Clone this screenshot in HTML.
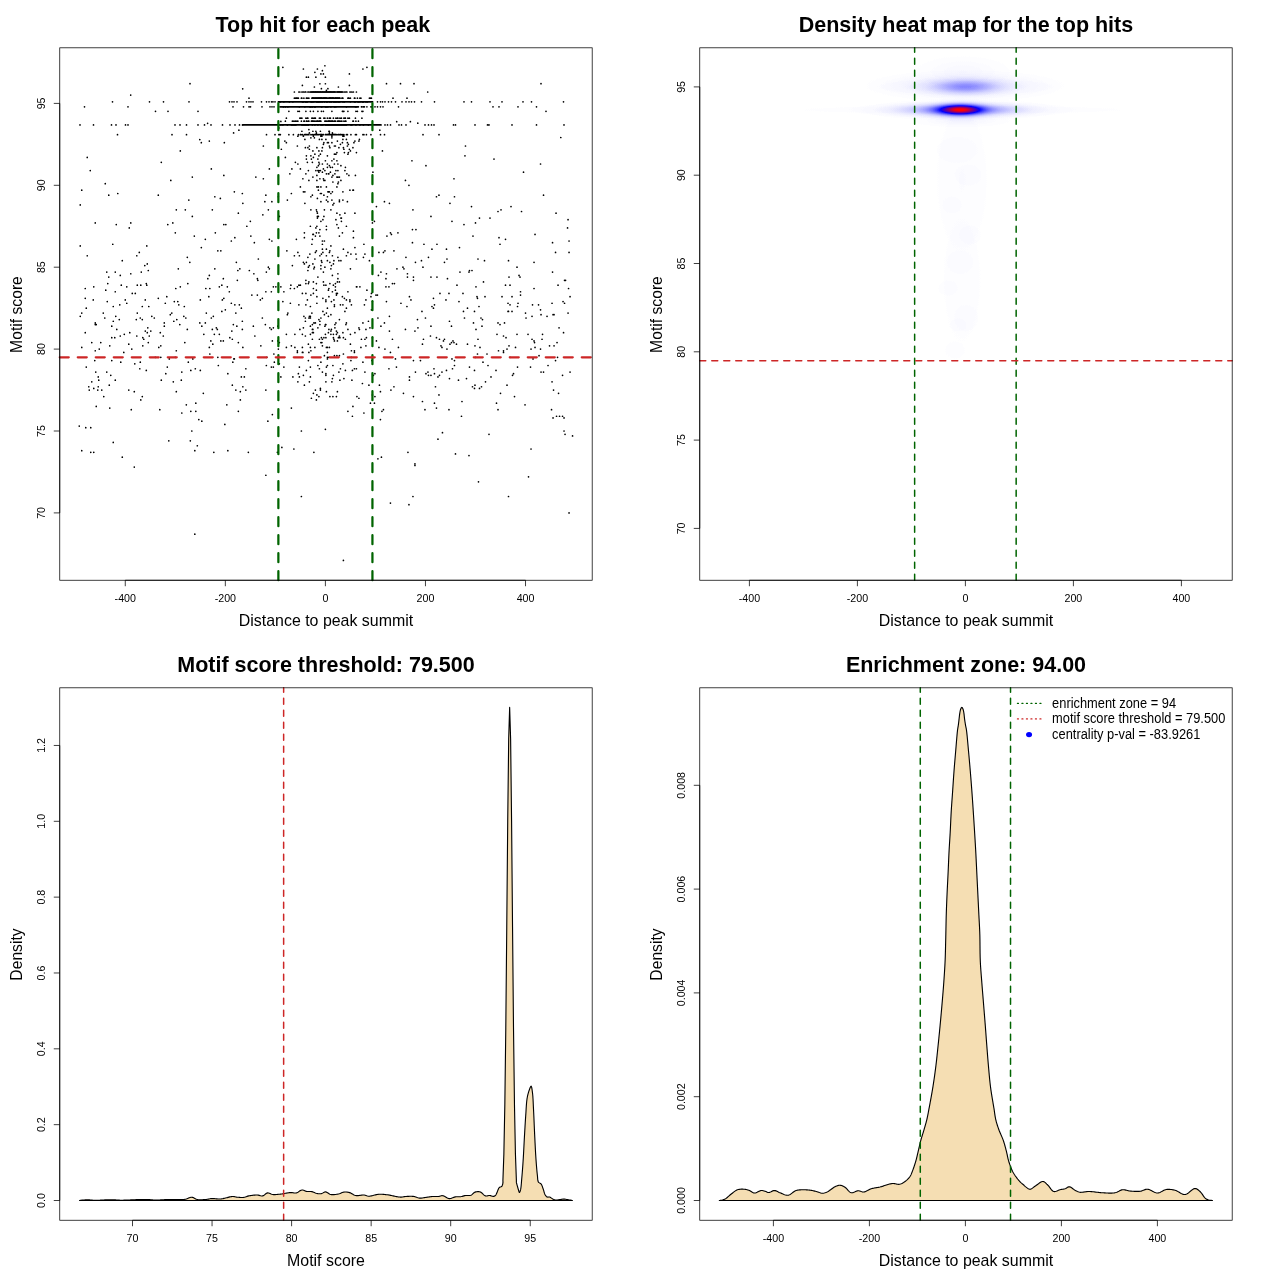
<!DOCTYPE html>
<html><head><meta charset="utf-8"><title>Motif enrichment plots</title>
<style>
html,body{margin:0;padding:0;background:#fff}
svg{display:block;font-family:"Liberation Sans",sans-serif;fill:#000;will-change:transform}
</style></head><body>
<svg width="1280" height="1280" viewBox="0 0 1280 1280">
<rect width="1280" height="1280" fill="#fff"/>
<clipPath id="c1"><rect x="59.76" y="47.81" width="532.43" height="532.43"/></clipPath>
<g clip-path="url(#c1)">
<path d="M96.26 406.43h0M109.77 408.07h0M131.28 409.71h0M140.79 399.88h0M159.8 409.71h0M181.81 412.98h0M186.32 404.79h0M190.82 411.34h0M195.82 411.34h0M195.82 403.15h0M198.82 419.53h0M201.83 421.17h0M226.84 404.79h0M238.35 411.34h0M240.35 399.88h0M224.84 424.45h0M267.87 421.17h0M272.37 414.62h0M291.38 408.07h0M316.39 399.88h0M79.25 426.09h0M85.76 427.72h0M90.76 427.72h0M191.82 431h0M301.39 431h0M325.4 429.36h0M113.27 442.47h0M168.81 440.83h0M190.32 440.83h0M197.32 445.74h0M194.82 450.66h0M81.75 450.66h0M90.76 452.29h0M93.76 452.29h0M213.83 452.29h0M227.84 450.66h0M248.35 452.29h0M277.37 452.29h0M281.87 447.38h0M293.88 449.02h0M313.89 452.29h0M122.28 457.21h0M134.29 467.04h0M265.86 475.23h0M301.39 496.52h0M194.82 534.19h0M347.91 411.34h0M352.92 406.43h0M352.42 416.26h0M363.92 412.98h0M370.43 403.15h0M374.43 403.15h0M380.43 419.53h0M381.93 411.34h0M383.43 409.71h0M422.46 401.52h0M424.96 409.71h0M434.47 403.15h0M436.47 408.07h0M448.97 409.71h0M461.98 401.52h0M461.48 416.26h0M496.5 403.15h0M498 409.71h0M525.02 404.79h0M551.54 409.71h0M553.04 417.9h0M556.54 416.26h0M559.54 416.26h0M562.54 416.26h0M564.04 417.9h0M564.04 431h0M565.04 434.28h0M572.55 435.91h0M442.47 432.64h0M437.97 439.19h0M489 434.28h0M407.95 452.29h0M377.93 458.85h0M381.43 457.21h0M414.95 463.76h0M414.95 465.4h0M455.48 453.93h0M468.99 455.57h0M531.02 449.02h0M528.52 476.86h0M478.49 481.78h0M412.95 496.52h0M390.44 503.07h0M408.95 504.71h0M508.51 496.52h0M569.05 512.9h0M343.41 560.4h0M558.54 393.33h0M242.85 386.77h0M103.77 396.6h0M315.39 390.05h0M372.43 394.96h0M553.54 390.05h0M109.27 385.14h0M481.49 386.77h0M438.97 394.96h0M474.99 385.14h0M337.41 391.69h0M101.77 390.05h0M93.76 388.41h0M88.76 386.77h0M203.33 393.33h0M358.92 398.24h0M97.76 390.05h0M413.45 396.6h0M89.26 390.05h0M232.34 385.14h0M479.49 388.41h0M403.45 393.33h0M380.43 391.69h0M173.31 381.86h0M362.42 383.5h0M98.26 386.77h0M474.49 388.41h0M500.5 393.33h0M245.85 390.05h0M235.85 390.05h0M134.29 391.69h0M472.49 386.77h0M142.29 396.6h0M514.51 396.6h0M176.31 391.69h0M393.94 386.77h0M379.43 385.14h0M390.94 390.05h0M485.5 381.86h0M240.35 391.69h0M435.47 386.77h0M507.01 385.14h0M91.76 381.86h0M356.92 396.6h0M265.86 390.05h0M304.39 385.14h0M128.78 390.05h0M94.76 360.57h0M233.85 358.93h0M232.84 362.2h0M433.97 368.76h0M303.39 375.31h0M106.77 372.03h0M570.05 372.03h0M517.52 367.12h0M531.02 349.1h0M200.32 370.39h0M273.37 367.12h0M190.82 370.39h0M140.29 362.2h0M95.26 350.74h0M327.4 352.38h0M139.79 368.76h0M165.8 373.67h0M503.51 352.38h0M317.9 365.48h0M169.31 358.93h0M409.45 380.22h0M209.83 354.01h0M338.91 372.03h0M218.34 365.48h0M333.4 375.31h0M388.94 368.76h0M343.41 354.01h0M273.87 354.01h0M469.49 367.12h0M510.01 357.29h0M167.31 367.12h0M146.29 370.39h0M134.79 363.84h0M562.54 375.31h0M543.53 372.03h0M192.82 358.93h0M557.54 357.29h0M181.31 380.22h0M328.9 357.29h0M324.4 355.65h0M530.52 367.12h0M98.76 380.22h0M234.35 358.93h0M374.93 373.67h0M111.77 360.57h0M195.32 368.76h0M308.39 360.57h0M513.51 373.67h0M454.48 365.48h0M488 365.48h0M454.48 360.57h0M428.46 375.31h0M498.5 350.74h0M415.45 372.03h0M441.97 372.03h0M227.84 373.67h0M161.3 380.22h0M452.48 368.76h0M160.8 357.29h0M533.02 358.93h0M373.43 375.31h0M241.35 376.95h0M541.03 372.03h0M155.3 357.29h0M332.9 365.48h0M123.78 352.38h0M555.54 360.57h0M362.92 362.2h0M475.49 357.29h0M217.84 357.29h0M474.49 370.39h0M425.96 373.67h0M396.44 367.12h0M548.03 365.48h0M292.88 376.95h0M283.88 367.12h0M420.46 360.57h0M491 376.95h0M244.35 376.95h0M409.45 376.95h0M181.81 372.03h0M351.42 350.74h0M458.48 380.22h0M110.77 375.31h0M437.97 376.95h0M86.26 367.12h0M552.04 381.86h0M310.39 367.12h0M280.87 376.95h0M434.47 373.67h0M336.91 355.65h0M439.47 375.31h0M120.78 362.2h0M356.42 368.76h0M354.42 368.76h0M539.03 355.65h0M98.26 376.95h0M302.39 352.38h0M390.44 352.38h0M350.92 360.57h0M115.27 380.22h0M371.93 360.57h0M188.32 362.2h0M175.31 357.29h0M512.51 375.31h0M176.31 350.74h0M302.89 352.38h0M449.47 378.58h0M427.96 372.03h0M351.92 380.22h0M477.49 354.01h0M308.89 352.38h0M384.94 349.1h0M482.99 362.2h0M413.45 360.57h0M395.44 358.93h0M279.37 363.84h0M354.42 350.74h0M274.37 362.2h0M446.47 370.39h0M266.36 365.48h0M309.39 381.86h0M451.98 358.93h0M327.4 358.93h0M245.85 368.76h0M487 354.01h0M266.86 357.29h0M496 370.39h0M466.48 378.58h0M299.38 376.95h0M430.96 375.31h0M95.76 372.03h0M271.37 367.12h0M503.51 350.74h0M364.92 372.03h0M354.42 352.38h0M414.95 331.08h0M500 324.53h0M277.87 326.17h0M80.25 316.34h0M467.49 344.19h0M199.82 322.89h0M149.29 336h0M473.49 322.89h0M417.46 319.62h0M183.82 316.34h0M210.83 340.91h0M542.53 334.36h0M211.33 317.98h0M425.46 317.98h0M142.79 337.63h0M480.99 317.98h0M136.79 336h0M333.4 337.63h0M96.26 324.53h0M350.41 334.36h0M497 334.36h0M120.28 336h0M214.33 334.36h0M456.48 344.19h0M378.93 347.46h0M233.34 324.53h0M389.44 331.08h0M303.39 327.81h0M504.51 322.89h0M223.34 340.91h0M452.98 340.91h0M392.44 339.27h0M444.47 339.27h0M265.36 324.53h0M436.47 337.63h0M423.46 339.27h0M269.87 327.81h0M91.76 342.55h0M554.04 345.82h0M430.96 326.17h0M179.81 324.53h0M439.47 339.27h0M216.33 327.81h0M310.39 347.46h0M503.51 336h0M299.88 329.44h0M220.84 340.91h0M229.84 337.63h0M116.77 329.44h0M187.32 329.44h0M212.83 344.19h0M164.3 326.17h0M109.77 345.82h0M308.89 317.98h0M184.82 342.55h0M443.47 340.91h0M534.53 342.55h0M213.33 316.34h0M361.42 339.27h0M328.9 329.44h0M115.77 316.34h0M140.29 317.98h0M515.51 347.46h0M312.89 332.72h0M475.99 329.44h0M111.77 326.17h0M372.43 337.63h0M506.01 337.63h0M507.01 349.1h0M81.75 347.46h0M336.41 331.08h0M260.86 345.82h0M453.98 342.55h0M114.77 337.63h0M209.33 347.46h0M479.99 347.46h0M310.39 317.98h0M302.39 334.36h0M557.04 342.55h0M236.85 326.17h0M99.26 349.1h0M272.37 340.91h0M154.3 317.98h0M119.28 319.62h0M358.92 327.81h0M549.53 345.82h0M364.92 339.27h0M398.44 347.46h0M238.35 342.55h0M360.92 347.46h0M449.97 344.19h0M369.93 327.81h0M474.99 345.82h0M350.41 344.19h0M176.81 319.62h0M366.42 337.63h0M321.4 337.63h0M160.8 345.82h0M384.44 322.89h0M481.99 326.17h0M145.29 331.08h0M347.91 329.44h0M440.97 345.82h0M277.87 340.91h0M212.33 329.44h0M262.36 317.98h0M346.41 322.89h0M417.96 327.81h0M354.92 332.72h0M131.78 349.1h0M482.49 319.62h0M535.03 347.46h0M128.78 344.19h0M201.83 326.17h0M164.3 322.89h0M498 322.89h0M528.02 334.36h0M100.77 342.55h0M242.85 347.46h0M173.81 321.25h0M310.39 316.34h0M534.03 340.91h0M113.27 321.25h0M163.3 336h0M319.4 339.27h0M337.41 332.72h0M446.97 349.1h0M294.88 334.36h0M148.29 342.55h0M253.36 326.17h0M563.54 332.72h0M449.47 321.25h0M136.29 319.62h0M477.99 339.27h0M232.34 339.27h0M464.48 317.98h0M85.26 332.72h0M509.01 345.82h0M158.8 347.46h0M303.89 316.34h0M405.45 329.44h0M329.4 347.46h0M160.3 332.72h0M147.29 332.72h0M219.34 334.36h0M104.77 317.98h0M185.82 317.98h0M142.79 345.82h0M308.39 344.19h0M254.86 336h0M368.43 321.25h0M217.34 329.44h0M95.26 324.53h0M242.35 329.44h0M451.48 342.55h0M205.33 322.89h0M278.37 349.1h0M451.48 326.17h0M279.37 342.55h0M517.01 334.36h0M532.02 316.34h0M231.84 331.08h0M441.97 347.46h0M203.83 334.36h0M147.79 327.81h0M294.88 347.46h0M376.43 340.91h0M540.53 349.1h0M150.8 331.08h0M430.46 336h0M313.39 332.72h0M143.79 339.27h0M559.04 327.81h0M422.46 344.19h0M142.29 319.62h0M526.02 317.98h0M129.78 332.72h0M124.28 334.36h0M242.35 321.25h0M542.03 339.27h0M95.26 322.89h0M532.02 339.27h0M380.93 326.17h0M111.77 337.63h0M359.42 329.44h0M305.39 317.98h0M105.77 290.13h0M477.49 298.32h0M346.41 299.96h0M265.86 291.77h0M251.86 295.05h0M113.27 306.51h0M206.33 313.06h0M386.44 301.6h0M126.78 286.86h0M409.45 296.68h0M554.04 314.7h0M563.04 301.6h0M518.02 303.24h0M476.99 296.68h0M166.8 296.68h0M558.04 285.22h0M178.81 304.87h0M508.01 303.24h0M512.01 296.68h0M385.94 286.86h0M336.41 293.41h0M177.81 301.6h0M335.41 290.13h0M222.34 299.96h0M140.79 285.22h0M142.29 306.51h0M474.49 311.43h0M534.03 288.49h0M148.79 306.51h0M85.26 288.49h0M208.83 296.68h0M145.29 299.96h0M171.81 313.06h0M366.92 290.13h0M287.38 314.7h0M290.88 285.22h0M180.31 286.86h0M406.95 306.51h0M221.84 311.43h0M275.87 286.86h0M307.39 299.96h0M525.52 313.06h0M200.32 299.96h0M433.46 308.15h0M231.34 303.24h0M520.52 295.05h0M273.37 286.86h0M328.4 290.13h0M512.01 311.43h0M410.95 299.96h0M125.28 299.96h0M146.29 283.58h0M568.05 313.06h0M93.26 299.96h0M227.34 286.86h0M552.04 303.24h0M86.26 308.15h0M158.3 298.32h0M184.32 306.51h0M121.28 285.22h0M311.89 313.06h0M371.43 309.79h0M235.85 313.06h0M132.28 293.41h0M478.99 306.51h0M475.99 286.86h0M356.42 286.86h0M146.79 285.22h0M346.41 308.15h0M389.44 316.34h0M290.38 303.24h0M505.51 285.22h0M271.37 291.77h0M330.9 314.7h0M135.29 293.41h0M356.92 286.86h0M456.98 285.22h0M439.97 293.41h0M205.83 288.49h0M568.55 288.49h0M434.47 304.87h0M287.88 313.06h0M283.88 291.77h0M463.48 311.43h0M165.3 303.24h0M394.44 283.58h0M433.46 298.32h0M333.91 299.96h0M510.01 285.22h0M310.39 306.51h0M308.39 283.58h0M219.34 286.86h0M532.52 304.87h0M234.85 304.87h0M421.96 311.43h0M280.87 286.86h0M540.53 309.79h0M547.03 316.34h0M93.76 286.86h0M570.05 296.68h0M377.43 295.05h0M115.27 291.77h0M324.4 314.7h0M103.27 313.06h0M349.91 299.96h0M170.31 314.7h0M260.36 299.96h0M229.34 291.77h0M375.93 295.05h0M485 296.68h0M541.03 314.7h0M241.35 308.15h0M359.92 286.86h0M81.75 313.06h0M262.36 298.32h0M553.04 314.7h0M137.29 285.22h0M508.51 311.43h0M400.95 303.24h0M223.84 298.32h0M462.98 293.41h0M221.84 285.22h0M520.52 291.77h0M119.78 304.87h0M137.29 313.06h0M448.97 293.41h0M300.38 285.22h0M151.8 316.34h0M332.4 291.77h0M225.34 309.79h0M349.91 301.6h0M445.97 299.96h0M502.01 296.68h0M107.77 283.58h0M371.43 293.41h0M564.54 303.24h0M305.89 293.41h0M458.98 301.6h0M126.78 303.24h0M510.01 304.87h0M365.92 299.96h0M517.52 306.51h0M467.49 308.15h0M508.01 311.43h0M107.27 301.6h0M431.96 306.51h0M175.81 288.49h0M209.83 288.49h0M239.35 304.87h0M370.93 296.68h0M388.94 286.86h0M538.53 304.87h0M85.26 298.32h0M174.31 301.6h0M257.36 295.05h0M552.54 272.11h0M147.29 263.92h0M555.54 252.46h0M407.45 273.75h0M471.99 270.48h0M392.44 283.58h0M508.51 260.65h0M239.85 268.84h0M428.46 257.37h0M209.33 275.39h0M329.9 262.29h0M415.45 262.29h0M178.31 268.84h0M108.77 277.03h0M469.49 270.48h0M477.99 259.01h0M407.45 277.03h0M237.35 280.3h0M403.95 268.84h0M120.28 275.39h0M405.95 257.37h0M363.42 257.37h0M383.43 252.46h0M299.38 255.73h0M189.82 262.29h0M436.97 277.03h0M307.89 257.37h0M446.97 259.01h0M258.36 259.01h0M122.28 260.65h0M346.41 255.73h0M386.44 273.75h0M534.03 262.29h0M517.01 267.2h0M106.77 272.11h0M459.98 272.11h0M207.83 278.67h0M422.96 267.2h0M266.36 272.11h0M237.85 270.48h0M319.9 255.73h0M340.91 260.65h0M421.46 260.65h0M393.94 250.82h0M413.45 277.03h0M268.37 267.2h0M413.45 280.3h0M249.35 270.48h0M378.93 252.46h0M305.89 280.3h0M356.42 259.01h0M87.26 255.73h0M324.9 267.2h0M187.32 257.37h0M269.37 268.84h0M115.27 272.11h0M402.95 267.2h0M520.02 277.03h0M253.86 273.75h0M130.78 273.75h0M384.94 250.82h0M141.29 272.11h0M519.02 275.39h0M139.29 252.46h0M257.36 278.67h0M322.9 252.46h0M136.79 255.73h0M236.35 262.29h0M214.83 268.84h0M430.96 277.03h0M565.54 280.3h0M257.86 280.3h0M468.99 272.11h0M148.29 270.48h0M364.92 254.1h0M292.38 265.56h0M220.84 250.82h0M484.5 260.65h0M447.47 278.67h0M144.79 265.56h0M223.34 278.67h0M483.49 281.94h0M569.05 252.46h0M380.93 272.11h0M509.01 277.03h0M564.54 280.3h0M444.47 262.29h0M396.94 268.84h0M187.82 283.58h0M431.96 249.18h0M205.33 239.35h0M463.98 224.61h0M319.9 229.53h0M343.41 249.18h0M304.39 237.72h0M412.45 229.53h0M567.55 227.89h0M472.99 236.08h0M112.77 244.27h0M322.9 219.7h0M194.32 236.08h0M129.28 227.89h0M175.31 232.8h0M201.33 247.54h0M552.54 242.63h0M446.47 249.18h0M500 244.27h0M423.96 244.27h0M234.85 237.72h0M271.87 240.99h0M296.38 239.35h0M223.84 224.61h0M286.88 250.82h0M459.48 247.54h0M116.27 224.61h0M215.33 232.8h0M315.39 236.08h0M412.45 242.63h0M397.94 232.8h0M436.97 244.27h0M130.78 222.97h0M167.81 224.61h0M231.34 240.99h0M217.84 250.82h0M451.98 221.34h0M569.05 240.99h0M415.95 229.53h0M95.26 222.97h0M225.84 224.61h0M475.49 222.97h0M535.03 234.44h0M372.43 222.97h0M250.86 236.08h0M254.36 242.63h0M391.44 234.44h0M505.51 239.35h0M246.85 226.25h0M172.81 222.97h0M80.25 245.91h0M146.79 245.91h0M499 237.72h0M386.94 236.08h0M568.05 219.7h0M543.53 195.13h0M556.04 213.15h0M438.97 195.13h0M412.95 209.87h0M212.33 209.87h0M262.86 214.78h0M80.25 204.96h0M490 218.06h0M214.83 196.77h0M117.78 193.49h0M234.35 191.85h0M238.35 213.15h0M436.47 196.77h0M81.75 190.21h0M192.32 216.42h0M521.52 211.51h0M501.01 209.87h0M389.44 203.32h0M354.92 213.15h0M188.82 200.04h0M511.01 206.59h0M454.48 196.77h0M331.9 200.04h0M158.3 195.13h0M185.32 209.87h0M265.86 195.13h0M242.35 193.49h0M108.77 195.13h0M279.37 216.42h0M300.38 186.94h0M220.34 198.4h0M268.37 209.87h0M242.85 203.32h0M264.86 201.68h0M384.44 201.68h0M324.4 209.87h0M176.31 209.87h0M471.49 206.59h0M332.4 191.85h0M304.89 203.32h0M430.96 216.42h0M449.97 203.32h0M498 211.51h0M479.49 218.06h0M408.95 185.3h0M223.84 175.47h0M344.41 152.54h0M255.86 177.11h0M105.27 183.66h0M523.52 172.2h0M540.53 164.01h0M170.81 180.39h0M285.38 157.45h0M263.36 178.75h0M161.3 162.37h0M405.45 180.39h0M464.98 155.82h0M453.98 178.75h0M411.95 160.73h0M87.26 157.45h0M192.32 177.11h0M332.9 182.02h0M425.96 165.64h0M269.37 168.92h0M300.38 168.92h0M494 159.09h0M90.26 170.56h0M211.33 168.92h0M319.4 139.44h0M303.39 136.16h0M278.87 127.97h0M224.34 142.71h0M209.33 141.07h0M201.33 142.71h0M465.48 145.99h0M180.31 150.9h0M338.91 147.63h0M263.36 145.99h0M280.87 121.42h0M333.91 203.32h0M318.9 172.2h0M306.39 262.29h0M316.39 250.82h0M310.89 209.87h0M325.9 324.53h0M304.39 232.8h0M334.91 327.81h0M325.9 299.96h0M317.4 213.15h0M313.39 136.16h0M308.89 129.61h0M347.91 291.77h0M309.39 316.34h0M319.9 236.08h0M329.4 252.46h0M320.9 265.56h0M323.9 180.39h0M291.38 193.49h0M346.41 226.25h0M344.91 213.15h0M374.43 221.34h0M342.91 200.04h0M329.4 145.99h0M354.92 141.07h0M350.92 134.52h0M331.9 160.73h0M310.39 326.17h0M322.4 249.18h0M331.9 177.11h0M298.88 285.22h0M323.9 216.42h0M323.9 337.63h0M305.89 304.87h0M321.4 260.65h0M325.4 334.36h0M332.4 255.73h0M344.41 298.32h0M325.4 160.73h0M337.91 278.67h0M331.4 265.56h0M346.91 173.83h0M326.4 226.25h0M325.9 337.63h0M372.43 301.6h0M339.91 214.78h0M351.42 304.87h0M336.41 295.05h0M336.91 213.15h0M324.4 240.99h0M316.39 290.13h0M310.39 226.25h0M330.9 209.87h0M334.41 340.91h0M328.9 288.49h0M337.41 281.94h0M318.9 155.82h0M339.91 337.63h0M323.4 272.11h0M334.41 306.51h0M278.37 196.77h0M320.4 170.56h0M339.41 336h0M333.91 159.09h0M310.89 196.77h0M325.9 301.6h0M307.89 147.63h0M325.9 285.22h0M355.42 175.47h0M342.91 332.72h0M326.4 249.18h0M353.42 237.72h0M336.91 152.54h0M329.4 165.64h0M326.4 229.53h0M338.41 337.63h0M350.92 254.1h0M314.39 267.2h0M328.9 131.25h0M339.41 200.04h0M333.91 260.65h0M313.89 268.84h0M324.9 180.39h0M273.37 327.81h0M324.9 170.56h0M327.9 201.68h0M309.89 254.1h0M330.9 193.49h0M303.39 262.29h0M377.93 317.98h0M337.91 257.37h0M343.41 337.63h0M331.4 329.44h0M315.39 252.46h0M332.4 167.28h0M298.88 304.87h0M269.37 239.35h0M340.91 134.52h0M316.89 167.28h0M321.9 150.9h0M271.87 201.68h0M335.91 219.7h0M320.9 221.34h0M317.4 216.42h0M354.92 247.54h0M307.89 270.48h0M342.41 296.68h0M336.41 334.36h0M320.9 268.84h0M316.89 180.39h0M338.41 227.89h0M311.89 313.06h0M318.9 170.56h0M312.39 339.27h0M323.4 144.35h0M376.43 206.59h0M316.89 226.25h0M314.89 259.01h0M327.4 167.28h0M286.38 347.46h0M291.38 345.82h0M312.89 234.44h0M305.89 283.58h0M327.4 260.65h0M353.42 231.16h0M333.91 339.27h0M316.39 132.88h0M326.4 200.04h0M317.9 327.81h0M326.4 186.94h0M342.41 232.8h0M317.4 198.4h0M336.91 186.94h0M315.89 131.25h0M335.91 322.89h0M312.89 131.25h0M311.89 244.27h0M342.91 304.87h0M308.39 267.2h0M330.9 268.84h0M356.42 152.54h0M313.39 234.44h0M310.39 334.36h0M328.4 191.85h0M312.39 239.35h0M317.9 170.56h0M322.4 339.27h0M306.39 159.09h0M348.41 152.54h0M302.39 347.46h0M363.92 244.27h0M362.92 322.89h0M318.9 232.8h0M365.92 329.44h0M335.91 154.18h0M327.4 308.15h0M347.41 201.68h0M332.9 204.96h0M385.94 278.67h0M331.4 301.6h0M352.92 147.63h0M337.41 340.91h0M337.41 293.41h0M317.9 277.03h0M250.35 221.34h0M350.41 268.84h0M345.91 324.53h0M336.91 224.61h0M349.91 190.21h0M323.9 195.13h0M324.4 240.99h0M323.4 281.94h0M326.4 347.46h0M316.39 232.8h0M316.89 211.51h0M347.91 252.46h0M310.89 137.8h0M334.41 304.87h0M315.89 170.56h0M304.89 191.85h0M350.41 150.9h0M329.4 145.99h0M316.89 296.68h0M297.38 145.99h0M369.43 260.65h0M287.38 200.04h0M342.91 139.44h0M340.91 218.06h0M341.41 221.34h0M333.4 334.36h0M317.4 218.06h0M328.9 296.68h0M312.89 263.92h0M309.39 265.56h0M320.9 136.16h0M316.39 209.87h0M352.92 190.21h0M322.9 311.43h0M313.39 281.94h0M306.39 155.82h0M313.89 322.89h0M346.41 139.44h0M294.38 255.73h0M333.4 263.92h0M339.41 236.08h0M297.88 252.46h0M330.9 245.91h0M326.4 255.73h0M312.39 195.13h0M313.39 288.49h0M326.4 313.06h0M321.4 254.1h0M312.39 329.44h0M329.9 250.82h0M322.4 240.99h0M337.91 177.11h0M325.4 324.53h0M321.9 262.29h0M336.91 177.11h0M378.43 275.39h0M340.91 165.64h0M303.39 191.85h0M345.41 339.27h0M304.39 263.92h0M340.91 180.39h0M390.44 232.8h0M320.9 201.68h0M320.4 131.25h0M339.41 201.68h0M319.9 229.53h0M319.4 164.01h0M355.92 254.1h0M327.4 347.46h0M290.38 288.49h0M341.41 218.06h0M337.41 141.07h0M318.4 216.42h0M335.41 286.86h0M329.4 131.25h0M338.91 260.65h0M322.9 298.32h0M315.89 227.89h0M337.91 273.75h0M334.91 324.53h0M327.9 191.85h0M327.4 196.77h0M343.91 136.16h0M318.9 319.62h0M281.37 149.26h0M326.4 173.83h0M302.39 293.41h0M322.4 244.27h0M347.91 154.18h0M328.9 173.83h0M320.9 186.94h0M284.88 141.07h0M337.91 183.66h0M318.9 162.37h0M318.4 165.64h0M314.39 137.8h0M317.9 159.09h0M345.41 167.28h0M322.4 172.2h0M343.41 147.63h0M323.4 178.75h0M309.39 145.99h0M335.41 145.99h0M328.4 142.71h0M297.88 164.01h0M308.89 180.39h0M320.4 154.18h0M321.9 136.16h0M289.88 173.83h0M342.91 191.85h0M338.41 182.02h0M331.9 136.16h0M320.4 193.49h0M353.42 190.21h0M316.89 186.94h0M331.9 137.8h0M323.4 168.92h0M382.43 150.9h0M309.39 149.26h0M330.4 167.28h0M329.9 147.63h0M322.4 164.01h0M311.39 159.09h0M305.89 173.83h0M321.4 193.49h0M327.4 155.82h0M312.89 177.11h0M339.41 177.11h0M359.42 139.44h0M335.91 170.56h0M318.4 186.94h0M314.89 154.18h0M336.91 160.73h0M318.4 190.21h0M372.93 172.2h0M310.89 155.82h0M332.9 175.47h0M332.4 132.88h0M340.41 144.35h0M295.38 162.37h0M342.91 136.16h0M329.4 191.85h0M319.9 178.75h0M308.89 281.94h0M344.91 311.43h0M305.39 336h0M334.41 306.51h0M310.89 295.05h0M340.41 304.87h0M322.4 345.82h0M365.92 345.82h0M339.41 319.62h0M314.89 347.46h0M320.9 342.55h0M282.87 301.6h0M328.4 316.34h0M321.9 342.55h0M323.9 285.22h0M319.9 321.25h0M335.41 283.58h0M364.42 304.87h0M316.89 303.24h0M320.9 317.98h0M307.39 299.96h0M336.41 331.08h0M312.89 329.44h0M333.4 285.22h0M286.38 334.36h0M305.39 321.25h0M313.39 293.41h0M319.9 324.53h0M315.39 322.89h0M339.41 281.94h0M330.9 334.36h0M330.9 331.08h0M329.9 283.58h0M271.37 329.44h0M312.39 324.53h0M316.39 283.58h0M324.9 326.17h0M332.4 275.39h0M294.38 288.49h0M297.38 286.86h0M312.39 332.72h0M328.4 332.72h0M298.38 373.67h0M297.88 381.86h0M352.42 370.39h0M339.41 355.65h0M327.4 365.48h0M316.89 394.96h0M325.9 375.31h0M325.9 373.67h0M311.39 398.24h0M368.93 385.14h0M329.9 396.6h0M313.39 393.33h0M299.38 367.12h0M310.89 350.74h0M339.91 380.22h0M340.41 368.76h0M320.9 362.2h0M326.4 367.12h0M319.4 368.76h0M351.42 357.29h0M332.9 396.6h0M374.93 396.6h0M310.39 376.95h0M322.4 372.03h0M342.91 363.84h0M320.4 390.05h0M297.38 352.38h0M306.39 370.39h0M327.4 357.29h0M332.4 378.58h0M345.41 370.39h0M331.9 381.86h0M325.9 381.86h0M320.4 388.41h0M336.41 396.6h0M343.91 378.58h0M326.4 391.69h0M334.41 355.65h0M318.9 396.6h0M297.38 350.74h0M348.91 175.47h0M342.41 142.71h0M334.41 164.01h0M331.9 142.71h0M358.92 141.07h0M334.91 173.83h0M323.9 142.71h0M309.39 132.88h0M318.9 150.9h0M305.39 147.63h0M327.4 164.01h0M330.4 172.2h0M286.38 142.71h0M325.9 139.44h0M337.91 170.56h0M328.4 173.83h0M307.39 162.37h0M349.41 149.26h0M312.39 162.37h0M301.89 131.25h0M304.89 139.44h0M325.4 134.52h0M343.91 149.26h0M347.41 142.71h0M329.4 132.88h0M302.89 178.75h0M312.89 150.9h0M308.39 170.56h0M321.9 139.44h0M291.88 168.92h0M327.4 142.71h0M337.91 164.01h0M322.4 147.63h0M334.41 145.99h0M307.39 134.52h0M297.88 136.16h0M313.39 157.45h0M347.41 145.99h0M344.91 170.56h0M316.89 175.47h0M348.41 144.35h0M319.4 134.52h0M353.92 142.71h0M334.41 154.18h0M316.89 147.63h0M306.39 77.19h0M315.89 77.19h0M362.92 69h0M302.39 85.38h0M303.39 69h0M319.9 83.74h0M308.39 77.19h0M314.89 72.28h0M338.41 87.02h0M366.92 67.36h0M282.87 67.36h0M324.9 65.73h0M326.4 90.3h0M323.4 73.92h0M320.9 73.92h0M317.4 69h0M349.41 85.38h0M314.39 87.02h0M322.4 70.64h0M325.4 83.74h0M327.9 88.66h0M321.4 88.66h0M349.41 73.92h0M325.4 77.19h0M356.42 92h0M313.89 92h0M324.9 92h0M333.91 92h0M326.4 92h0M309.89 92h0M330.9 92h0M326.9 92h0M331.4 92h0M339.91 92h0M338.41 92h0M330.9 92h0M329.4 92h0M310.89 92h0M323.9 92h0M328.4 92h0M320.4 92h0M326.9 92h0M314.89 92h0M345.41 92h0M353.42 92h0M320.4 92h0M330.4 92h0M322.4 92h0M341.91 92h0M330.9 92h0M326.4 92h0M322.4 92h0M326.9 92h0M312.39 92h0M334.41 92h0M315.89 92h0M332.4 92h0M326.9 92h0M339.41 92h0M325.4 92h0M338.91 92h0M313.39 92h0M333.4 92h0M322.4 92h0M327.9 92h0M326.4 92h0M337.41 92h0M298.88 92h0M329.4 92h0M305.89 92h0M340.91 92h0M299.88 92h0M312.39 92h0M303.39 92h0M346.91 92h0M308.39 92h0M326.9 92h0M318.4 92h0M301.89 92h0M320.9 92h0M333.91 92h0M322.9 92h0M337.41 92h0M320.9 92h0M325.4 92h0M320.4 92h0M329.9 92h0M349.91 92h0M329.9 92h0M327.9 92h0M317.4 92h0M315.39 92h0M344.41 92h0M310.89 92h0M313.39 92h0M323.9 92h0M319.9 92h0M350.92 92h0M294.38 92h0M329.9 92h0M334.91 92h0M310.89 92h0M316.89 92h0M330.9 92h0M346.41 92h0M313.39 92h0M304.89 92h0M337.91 92h0M345.41 92h0M334.91 92h0M309.89 92h0M308.39 92h0M303.39 92h0M351.92 92h0M302.89 92h0M349.91 92h0M305.39 92h0M315.39 92h0M307.89 92h0M297.38 98.2h0M313.39 98.2h0M348.41 98.2h0M320.4 98.2h0M307.89 98.2h0M325.4 98.2h0M323.9 98.2h0M323.9 98.2h0M319.4 98.2h0M321.4 98.2h0M319.4 98.2h0M329.9 98.2h0M314.89 98.2h0M321.4 98.2h0M323.4 98.2h0M342.41 98.2h0M330.4 98.2h0M323.9 98.2h0M332.4 98.2h0M330.9 98.2h0M339.41 98.2h0M331.9 98.2h0M348.91 98.2h0M342.91 98.2h0M324.9 98.2h0M319.9 98.2h0M336.91 98.2h0M331.9 98.2h0M324.4 98.2h0M306.39 98.2h0M301.39 98.2h0M329.9 98.2h0M335.41 98.2h0M335.91 98.2h0M308.89 98.2h0M338.91 98.2h0M318.4 98.2h0M330.4 98.2h0M330.9 98.2h0M314.89 98.2h0M317.9 98.2h0M298.38 98.2h0M313.39 98.2h0M301.89 98.2h0M330.9 98.2h0M326.4 98.2h0M337.41 98.2h0M329.9 98.2h0M316.89 98.2h0M329.9 98.2h0M320.4 98.2h0M333.4 98.2h0M329.4 98.2h0M312.39 98.2h0M325.4 98.2h0M325.9 98.2h0M321.4 98.2h0M336.91 98.2h0M347.91 98.2h0M320.4 98.2h0M320.9 98.2h0M296.38 98.2h0M323.9 98.2h0M319.9 98.2h0M297.38 98.2h0M329.4 98.2h0M332.9 98.2h0M315.89 98.2h0M320.4 98.2h0M312.89 98.2h0M329.4 98.2h0M335.41 98.2h0M316.89 98.2h0M359.92 98.2h0M314.89 98.2h0M306.89 98.2h0M350.41 98.2h0M357.42 98.2h0M360.92 98.2h0M294.38 98.2h0M296.88 98.2h0M321.9 98.2h0M369.43 98.2h0M336.91 98.2h0M336.91 98.2h0M308.89 98.2h0M371.43 98.2h0M295.38 98.2h0M330.9 98.2h0M341.91 98.2h0M354.42 98.2h0M354.92 98.2h0M314.89 98.2h0M303.89 98.2h0M370.43 98.2h0M329.4 101.8h0M305.39 101.8h0M280.37 101.8h0M357.92 101.8h0M367.43 101.8h0M330.9 101.8h0M316.39 101.8h0M338.91 101.8h0M331.4 101.8h0M355.42 101.8h0M350.41 101.8h0M324.4 101.8h0M289.38 101.8h0M342.91 101.8h0M363.42 101.8h0M283.88 101.8h0M336.41 101.8h0M362.42 101.8h0M334.41 101.8h0M303.39 101.8h0M313.89 101.8h0M354.42 101.8h0M307.39 101.8h0M319.4 101.8h0M310.89 101.8h0M278.87 101.8h0M302.39 101.8h0M331.4 101.8h0M307.39 101.8h0M339.91 101.8h0M331.4 101.8h0M292.88 101.8h0M312.39 101.8h0M327.4 101.8h0M334.91 101.8h0M311.89 101.8h0M320.9 101.8h0M335.41 101.8h0M322.4 101.8h0M305.39 101.8h0M318.4 101.8h0M316.39 101.8h0M306.39 101.8h0M333.4 101.8h0M326.4 101.8h0M318.4 101.8h0M344.41 101.8h0M359.92 101.8h0M337.91 101.8h0M311.89 101.8h0M358.42 101.8h0M319.4 101.8h0M317.4 101.8h0M365.92 101.8h0M338.41 101.8h0M285.38 106.8h0M325.4 106.8h0M346.41 106.8h0M327.9 106.8h0M304.89 106.8h0M285.38 106.8h0M310.39 106.8h0M314.89 106.8h0M309.89 106.8h0M321.4 106.8h0M355.42 106.8h0M326.4 106.8h0M330.9 106.8h0M283.37 106.8h0M315.39 106.8h0M314.39 106.8h0M334.41 106.8h0M335.91 106.8h0M321.9 106.8h0M287.88 106.8h0M310.89 106.8h0M299.38 106.8h0M312.39 106.8h0M363.92 106.8h0M361.42 106.8h0M361.92 106.8h0M364.42 106.8h0M366.92 106.8h0M357.42 106.8h0M371.93 106.8h0M363.42 106.8h0M370.93 106.8h0M356.92 106.8h0M357.92 106.8h0M358.42 106.8h0M361.92 111.3h0M317.9 111.3h0M355.92 111.3h0M342.41 111.3h0M288.88 111.3h0M313.39 111.3h0M310.39 111.3h0M321.4 111.3h0M347.91 111.3h0M288.88 111.3h0M362.92 111.3h0M323.4 111.3h0M313.39 111.3h0M342.91 111.3h0M305.89 111.3h0M343.91 111.3h0M317.9 111.3h0M323.4 111.3h0M297.88 111.3h0M299.38 111.3h0M357.42 111.3h0M331.9 111.3h0M339.91 118.2h0M320.4 118.2h0M314.39 118.2h0M319.4 118.2h0M307.89 118.2h0M319.4 118.2h0M329.4 118.2h0M324.9 118.2h0M341.41 118.2h0M315.39 118.2h0M337.41 118.2h0M299.88 118.2h0M312.89 118.2h0M286.38 118.2h0M355.42 118.2h0M337.91 118.2h0M300.89 118.2h0M323.9 118.2h0M345.41 118.2h0M335.91 118.2h0M333.4 118.2h0M307.39 118.2h0M311.89 118.2h0M327.4 118.2h0M344.91 118.2h0M307.89 118.2h0M301.89 118.2h0M349.41 118.2h0M305.89 118.2h0M347.91 118.2h0M330.4 118.2h0M343.91 118.2h0M361.92 118.2h0M339.91 118.2h0M334.91 121.2h0M314.39 121.2h0M316.89 121.2h0M332.9 121.2h0M343.91 121.2h0M341.91 121.2h0M353.42 121.2h0M328.9 121.2h0M327.9 121.2h0M337.41 121.2h0M325.4 121.2h0M324.9 121.2h0M312.89 121.2h0M337.41 121.2h0M312.39 121.2h0M331.4 121.2h0M308.39 121.2h0M338.41 121.2h0M312.89 121.2h0M335.41 121.2h0M306.39 121.2h0M319.9 121.2h0M339.41 121.2h0M315.89 121.2h0M326.4 121.2h0M319.9 121.2h0M297.88 121.2h0M328.9 121.2h0M330.4 121.2h0M311.89 121.2h0M332.4 121.2h0M315.89 121.2h0M313.39 121.2h0M325.4 121.2h0M317.4 121.2h0M352.92 121.2h0M306.89 121.2h0M334.41 121.2h0M337.41 121.2h0M301.39 121.2h0M304.39 121.2h0M331.9 121.2h0M319.4 121.2h0M329.9 121.2h0M338.91 121.2h0M320.9 121.2h0M312.39 121.2h0M292.38 121.2h0M327.9 121.2h0M314.39 121.2h0M329.4 121.2h0M328.4 121.2h0M308.89 121.2h0M345.91 121.2h0M338.41 121.2h0M335.41 121.2h0M311.39 121.2h0M320.4 121.2h0M318.9 121.2h0M320.4 121.2h0M311.89 121.2h0M330.4 121.2h0M328.4 121.2h0M329.9 121.2h0M319.4 121.2h0M340.91 121.2h0M327.9 121.2h0M292.38 121.2h0M317.9 121.2h0M324.9 121.2h0M285.38 121.2h0M295.38 121.2h0M303.89 121.2h0M293.88 121.2h0M296.88 121.2h0M329.4 121.2h0M319.4 121.2h0M355.92 121.2h0M325.4 121.2h0M328.9 121.2h0M345.41 121.2h0M358.42 121.2h0M334.91 124.9h0M320.9 124.9h0M337.41 124.9h0M329.4 124.9h0M344.41 124.9h0M351.42 124.9h0M295.38 124.9h0M335.91 124.9h0M304.39 124.9h0M292.38 124.9h0M292.38 124.9h0M346.41 124.9h0M278.87 124.9h0M328.4 124.9h0M321.9 124.9h0M334.41 124.9h0M339.91 124.9h0M326.9 124.9h0M301.89 124.9h0M326.9 124.9h0M332.9 124.9h0M322.9 124.9h0M368.43 124.9h0M333.91 124.9h0M331.9 124.9h0M345.41 124.9h0M291.38 124.9h0M330.9 124.9h0M307.89 124.9h0M306.39 124.9h0M314.89 124.9h0M317.9 124.9h0M293.88 124.9h0M308.39 124.9h0M305.39 124.9h0M350.92 124.9h0M278.87 124.9h0M338.41 124.9h0M287.38 124.9h0M343.91 124.9h0M351.92 124.9h0M325.4 124.9h0M301.89 124.9h0M302.89 124.9h0M280.87 124.9h0M341.41 124.9h0M312.39 124.9h0M307.89 124.9h0M335.91 124.9h0M295.88 124.9h0M355.92 124.9h0M294.88 124.9h0M359.92 124.9h0M342.41 124.9h0M295.88 124.9h0M328.4 124.9h0M282.87 124.9h0M363.42 124.9h0M343.91 134.7h0M313.89 134.7h0M341.91 134.7h0M315.39 134.7h0M322.9 134.7h0M333.91 134.7h0M331.9 134.7h0M328.4 134.7h0M308.89 134.7h0M328.9 134.7h0M315.39 134.7h0M350.92 134.7h0M323.4 134.7h0M327.4 134.7h0M313.89 134.7h0M320.4 134.7h0M312.39 134.7h0M335.41 134.7h0M322.9 134.7h0M330.9 134.7h0M318.4 134.7h0M320.4 134.7h0M338.41 134.7h0M315.89 134.7h0M307.39 134.7h0M329.4 134.7h0M313.89 134.7h0M320.9 134.7h0M334.41 134.7h0M317.4 134.7h0M334.41 134.7h0M318.4 134.7h0M340.41 134.7h0M338.91 134.7h0M320.9 134.7h0M323.4 134.7h0M316.89 134.7h0M327.4 134.7h0M336.91 134.7h0M310.89 134.7h0M334.41 134.7h0M312.39 134.7h0M316.89 134.7h0M307.39 134.7h0M346.41 134.7h0M325.9 134.7h0M327.9 134.7h0M318.4 134.7h0M335.91 134.7h0M304.39 134.7h0M325.9 134.7h0M347.41 134.7h0M321.4 134.7h0M325.4 134.7h0M331.9 134.7h0M317.4 134.7h0M325.4 134.7h0M334.91 134.7h0M327.4 134.7h0M328.9 134.7h0M321.9 134.7h0M328.4 134.7h0M325.9 134.7h0M339.91 134.7h0M332.4 134.7h0M322.9 134.7h0M300.89 134.7h0M332.4 134.7h0M332.9 134.7h0M316.39 134.7h0M305.39 134.7h0M313.89 134.7h0M334.91 134.7h0M314.89 134.7h0M320.9 134.7h0M279.37 134.7h0M356.42 134.7h0M278.87 134.7h0M302.39 134.7h0M333.4 134.7h0M325.4 134.7h0M362.92 134.7h0M298.38 134.7h0M288.88 134.7h0M293.38 134.7h0M325.4 134.7h0M305.89 134.7h0M321.4 134.7h0M342.91 134.7h0M308.39 134.7h0M340.91 134.7h0M280.37 134.7h0M329.9 134.7h0M363.92 134.7h0M366.42 134.7h0M331.9 134.7h0M370.93 134.7h0M300.38 134.7h0M306.39 134.7h0M320.4 134.7h0M326.4 134.7h0M355.42 134.7h0M320.4 134.7h0M112.5 101.8h0M149.5 101.8h0M163.5 101.8h0M189 101.8h0M229.5 101.8h0M232 101.8h0M234 101.8h0M237 101.8h0M246.5 101.8h0M249 101.8h0M251 101.8h0M253 101.8h0M261.5 101.8h0M266.5 101.8h0M269 101.8h0M271.5 101.8h0M273 101.8h0M275 101.8h0M377.5 101.8h0M380.5 101.8h0M382.5 101.8h0M385 101.8h0M388.5 101.8h0M391.5 101.8h0M395.5 101.8h0M402 101.8h0M406 101.8h0M409 101.8h0M411.5 101.8h0M414.5 101.8h0M421.5 101.8h0M434.5 101.8h0M464 101.8h0M471.5 101.8h0M490 101.8h0M502 101.8h0M523 101.8h0M531.5 101.8h0M563.5 101.8h0M84.5 106.8h0M128 106.8h0M233 106.8h0M243.5 106.8h0M249 106.8h0M250.5 106.8h0M262 106.8h0M270 106.8h0M272 106.8h0M274 106.8h0M375 106.8h0M377.5 106.8h0M380.5 106.8h0M383 106.8h0M398.5 106.8h0M493 106.8h0M499 106.8h0M518 106.8h0M536.5 106.8h0M155.5 111.3h0M168 111.3h0M198 111.3h0M546 111.3h0M80 124.9h0M93.5 124.9h0M111.5 124.9h0M116 124.9h0M125.5 124.9h0M128 124.9h0M175 124.9h0M180 124.9h0M186.5 124.9h0M198 124.9h0M204.5 124.9h0M211 124.9h0M222.5 124.9h0M230 124.9h0M235 124.9h0M239.5 124.9h0M242.5 124.9h0M385 124.9h0M387.5 124.9h0M390.5 124.9h0M399 124.9h0M401.5 124.9h0M406 124.9h0M425 124.9h0M428.5 124.9h0M431.5 124.9h0M434 124.9h0M453.5 124.9h0M455.5 124.9h0M475 124.9h0M487.5 124.9h0M489 124.9h0M512 124.9h0M536.5 124.9h0M564 124.9h0M117.5 134.7h0M172 134.7h0M186.5 134.7h0M266.5 134.7h0M275 134.7h0M380.5 134.7h0M384.5 134.7h0M423 134.7h0M439 134.7h0M190 83.7h0M386.5 83.7h0M400.5 83.7h0M414 83.7h0M541 83.7h0M249 98.2h0M393 98.2h0M407 98.2h0M242.7 88.8h0M130.7 95.1h0M207.6 123.3h0M238.9 130.2h0M233.6 132.9h0M199.8 139.6h0M427.7 92h0M396.7 121.7h0M410.4 121.7h0M417.8 123.2h0M379.8 130.2h0M560.8 137.5h0" stroke="#000" stroke-width="1.7" stroke-linecap="round" fill="none"/>
<path d="M311 92H343M312 98.2H340M278.4 101.8H372.6M280 106.8H356.5M243 124.9H381" stroke="#000" stroke-width="1.7" stroke-linecap="round" fill="none"/>
</g>
<path d="M278.37 580.24V47.81" stroke="#006400" stroke-width="2.25" stroke-dasharray="9 9" stroke-linecap="round" fill="none"/>
<path d="M372.43 580.24V47.81" stroke="#006400" stroke-width="2.25" stroke-dasharray="9 9" stroke-linecap="round" fill="none"/>
<path d="M59.76 357.29H592.19" stroke="#CD2626" stroke-width="2.25" stroke-dasharray="9 9" stroke-linecap="round" fill="none"/>
<rect x="59.76" y="47.81" width="532.43" height="532.43" fill="none" stroke="#000" stroke-width="0.75"/>
<path d="M125.28 580.24H525.52M125.28 580.24v5.98M225.34 580.24v5.98M325.4 580.24v5.98M425.46 580.24v5.98M525.52 580.24v5.98" stroke="#000" stroke-width="0.75" fill="none"/>
<text x="125.28" y="601.75" font-size="10.67" text-anchor="middle">-400</text>
<text x="225.34" y="601.75" font-size="10.67" text-anchor="middle">-200</text>
<text x="325.4" y="601.75" font-size="10.67" text-anchor="middle">0</text>
<text x="425.46" y="601.75" font-size="10.67" text-anchor="middle">200</text>
<text x="525.52" y="601.75" font-size="10.67" text-anchor="middle">400</text>
<path d="M59.76 103.4V512.9M59.76 512.9h-5.98M59.76 431h-5.98M59.76 349.1h-5.98M59.76 267.2h-5.98M59.76 185.3h-5.98M59.76 103.4h-5.98" stroke="#000" stroke-width="0.75" fill="none"/>
<text transform="translate(45.42 512.9) rotate(-90)" font-size="10.67" text-anchor="middle">70</text>
<text transform="translate(45.42 431) rotate(-90)" font-size="10.67" text-anchor="middle">75</text>
<text transform="translate(45.42 349.1) rotate(-90)" font-size="10.67" text-anchor="middle">80</text>
<text transform="translate(45.42 267.2) rotate(-90)" font-size="10.67" text-anchor="middle">85</text>
<text transform="translate(45.42 185.3) rotate(-90)" font-size="10.67" text-anchor="middle">90</text>
<text transform="translate(45.42 103.4) rotate(-90)" font-size="10.67" text-anchor="middle">95</text>
<text x="325.98" y="625.66" font-size="15.93" text-anchor="middle">Distance to peak summit</text>
<text transform="translate(21.51 314.52) rotate(-90)" font-size="15.7" text-anchor="middle">Motif score</text>
<text x="322.88" y="31.85" font-size="21.5" font-weight="bold" text-anchor="middle">Top hit for each peak</text>
<clipPath id="c2"><rect x="699.76" y="47.81" width="532.43" height="532.43"/></clipPath>
<filter id="heat" x="699.76" y="47.81" width="532.43" height="532.43" filterUnits="userSpaceOnUse" color-interpolation-filters="sRGB"><feComponentTransfer><feFuncR type="table" tableValues="1 0 1"/><feFuncG type="table" tableValues="1 0 0"/><feFuncB type="table" tableValues="1 1 0"/></feComponentTransfer></filter>
<radialGradient id="h1" gradientUnits="userSpaceOnUse" cx="0" cy="0" r="3.5" gradientTransform="translate(960 109.8) scale(13.5 3.3)"><stop offset="0.000" stop-color="#bfbfbf"/><stop offset="0.036" stop-color="#bebebe"/><stop offset="0.071" stop-color="#b9b9b9"/><stop offset="0.107" stop-color="#b2b2b2"/><stop offset="0.143" stop-color="#a9a9a9"/><stop offset="0.179" stop-color="#9d9d9d"/><stop offset="0.214" stop-color="#909090"/><stop offset="0.250" stop-color="#828282"/><stop offset="0.286" stop-color="#747474"/><stop offset="0.321" stop-color="#666666"/><stop offset="0.357" stop-color="#585858"/><stop offset="0.393" stop-color="#4a4a4a"/><stop offset="0.429" stop-color="#3e3e3e"/><stop offset="0.464" stop-color="#333333"/><stop offset="0.500" stop-color="#292929"/><stop offset="0.536" stop-color="#212121"/><stop offset="0.571" stop-color="#1a1a1a"/><stop offset="0.607" stop-color="#141414"/><stop offset="0.643" stop-color="#0f0f0f"/><stop offset="0.679" stop-color="#0b0b0b"/><stop offset="0.714" stop-color="#080808"/><stop offset="0.750" stop-color="#060606"/><stop offset="0.786" stop-color="#040404"/><stop offset="0.821" stop-color="#030303"/><stop offset="0.857" stop-color="#020202"/><stop offset="0.893" stop-color="#010101"/><stop offset="0.929" stop-color="#010101"/><stop offset="0.964" stop-color="#010101"/><stop offset="1.000" stop-color="#000000"/></radialGradient>
<radialGradient id="h2" gradientUnits="userSpaceOnUse" cx="0" cy="0" r="3.5" gradientTransform="translate(960.5 109.8) scale(32 3.5)"><stop offset="0.000" stop-color="#404040"/><stop offset="0.036" stop-color="#3f3f3f"/><stop offset="0.071" stop-color="#3e3e3e"/><stop offset="0.107" stop-color="#3b3b3b"/><stop offset="0.143" stop-color="#383838"/><stop offset="0.179" stop-color="#343434"/><stop offset="0.214" stop-color="#303030"/><stop offset="0.250" stop-color="#2b2b2b"/><stop offset="0.286" stop-color="#272727"/><stop offset="0.321" stop-color="#222222"/><stop offset="0.357" stop-color="#1d1d1d"/><stop offset="0.393" stop-color="#191919"/><stop offset="0.429" stop-color="#151515"/><stop offset="0.464" stop-color="#111111"/><stop offset="0.500" stop-color="#0e0e0e"/><stop offset="0.536" stop-color="#0b0b0b"/><stop offset="0.571" stop-color="#090909"/><stop offset="0.607" stop-color="#070707"/><stop offset="0.643" stop-color="#050505"/><stop offset="0.679" stop-color="#040404"/><stop offset="0.714" stop-color="#030303"/><stop offset="0.750" stop-color="#020202"/><stop offset="0.786" stop-color="#010101"/><stop offset="0.821" stop-color="#010101"/><stop offset="0.857" stop-color="#010101"/><stop offset="0.893" stop-color="#000000"/><stop offset="0.929" stop-color="#000000"/><stop offset="0.964" stop-color="#000000"/><stop offset="1.000" stop-color="#000000"/></radialGradient>
<radialGradient id="h3" gradientUnits="userSpaceOnUse" cx="0" cy="0" r="3.5" gradientTransform="translate(962 109.8) scale(48 3.6)"><stop offset="0.000" stop-color="#080808"/><stop offset="0.036" stop-color="#080808"/><stop offset="0.071" stop-color="#070707"/><stop offset="0.107" stop-color="#070707"/><stop offset="0.143" stop-color="#070707"/><stop offset="0.179" stop-color="#060606"/><stop offset="0.214" stop-color="#060606"/><stop offset="0.250" stop-color="#050505"/><stop offset="0.286" stop-color="#050505"/><stop offset="0.321" stop-color="#040404"/><stop offset="0.357" stop-color="#040404"/><stop offset="0.393" stop-color="#030303"/><stop offset="0.429" stop-color="#020202"/><stop offset="0.464" stop-color="#020202"/><stop offset="0.500" stop-color="#020202"/><stop offset="0.536" stop-color="#010101"/><stop offset="0.571" stop-color="#010101"/><stop offset="0.607" stop-color="#010101"/><stop offset="0.643" stop-color="#010101"/><stop offset="0.679" stop-color="#000000"/><stop offset="0.714" stop-color="#000000"/><stop offset="0.750" stop-color="#000000"/><stop offset="0.786" stop-color="#000000"/><stop offset="0.821" stop-color="#000000"/><stop offset="0.857" stop-color="#000000"/><stop offset="0.893" stop-color="#000000"/><stop offset="0.929" stop-color="#000000"/><stop offset="0.964" stop-color="#000000"/><stop offset="1.000" stop-color="#000000"/></radialGradient>
<radialGradient id="h4" gradientUnits="userSpaceOnUse" cx="0" cy="0" r="3.5" gradientTransform="translate(962 109.8) scale(130 3.2)"><stop offset="0.000" stop-color="#010101"/><stop offset="0.036" stop-color="#010101"/><stop offset="0.071" stop-color="#010101"/><stop offset="0.107" stop-color="#010101"/><stop offset="0.143" stop-color="#010101"/><stop offset="0.179" stop-color="#010101"/><stop offset="0.214" stop-color="#010101"/><stop offset="0.250" stop-color="#010101"/><stop offset="0.286" stop-color="#010101"/><stop offset="0.321" stop-color="#010101"/><stop offset="0.357" stop-color="#000000"/><stop offset="0.393" stop-color="#000000"/><stop offset="0.429" stop-color="#000000"/><stop offset="0.464" stop-color="#000000"/><stop offset="0.500" stop-color="#000000"/><stop offset="0.536" stop-color="#000000"/><stop offset="0.571" stop-color="#000000"/><stop offset="0.607" stop-color="#000000"/><stop offset="0.643" stop-color="#000000"/><stop offset="0.679" stop-color="#000000"/><stop offset="0.714" stop-color="#000000"/><stop offset="0.750" stop-color="#000000"/><stop offset="0.786" stop-color="#000000"/><stop offset="0.821" stop-color="#000000"/><stop offset="0.857" stop-color="#000000"/><stop offset="0.893" stop-color="#000000"/><stop offset="0.929" stop-color="#000000"/><stop offset="0.964" stop-color="#000000"/><stop offset="1.000" stop-color="#000000"/></radialGradient>
<radialGradient id="h5" gradientUnits="userSpaceOnUse" cx="0" cy="0" r="3.5" gradientTransform="translate(965.8 87) scale(19 4.3)"><stop offset="0.000" stop-color="#292929"/><stop offset="0.036" stop-color="#282828"/><stop offset="0.071" stop-color="#282828"/><stop offset="0.107" stop-color="#262626"/><stop offset="0.143" stop-color="#242424"/><stop offset="0.179" stop-color="#222222"/><stop offset="0.214" stop-color="#1f1f1f"/><stop offset="0.250" stop-color="#1c1c1c"/><stop offset="0.286" stop-color="#191919"/><stop offset="0.321" stop-color="#161616"/><stop offset="0.357" stop-color="#131313"/><stop offset="0.393" stop-color="#101010"/><stop offset="0.429" stop-color="#0d0d0d"/><stop offset="0.464" stop-color="#0b0b0b"/><stop offset="0.500" stop-color="#090909"/><stop offset="0.536" stop-color="#070707"/><stop offset="0.571" stop-color="#060606"/><stop offset="0.607" stop-color="#040404"/><stop offset="0.643" stop-color="#030303"/><stop offset="0.679" stop-color="#020202"/><stop offset="0.714" stop-color="#020202"/><stop offset="0.750" stop-color="#010101"/><stop offset="0.786" stop-color="#010101"/><stop offset="0.821" stop-color="#010101"/><stop offset="0.857" stop-color="#000000"/><stop offset="0.893" stop-color="#000000"/><stop offset="0.929" stop-color="#000000"/><stop offset="0.964" stop-color="#000000"/><stop offset="1.000" stop-color="#000000"/></radialGradient>
<radialGradient id="h6" gradientUnits="userSpaceOnUse" cx="0" cy="0" r="3.5" gradientTransform="translate(965 85.8) scale(38 6)"><stop offset="0.000" stop-color="#0f0f0f"/><stop offset="0.036" stop-color="#0f0f0f"/><stop offset="0.071" stop-color="#0f0f0f"/><stop offset="0.107" stop-color="#0e0e0e"/><stop offset="0.143" stop-color="#0e0e0e"/><stop offset="0.179" stop-color="#0d0d0d"/><stop offset="0.214" stop-color="#0c0c0c"/><stop offset="0.250" stop-color="#0a0a0a"/><stop offset="0.286" stop-color="#090909"/><stop offset="0.321" stop-color="#080808"/><stop offset="0.357" stop-color="#070707"/><stop offset="0.393" stop-color="#060606"/><stop offset="0.429" stop-color="#050505"/><stop offset="0.464" stop-color="#040404"/><stop offset="0.500" stop-color="#030303"/><stop offset="0.536" stop-color="#030303"/><stop offset="0.571" stop-color="#020202"/><stop offset="0.607" stop-color="#020202"/><stop offset="0.643" stop-color="#010101"/><stop offset="0.679" stop-color="#010101"/><stop offset="0.714" stop-color="#010101"/><stop offset="0.750" stop-color="#000000"/><stop offset="0.786" stop-color="#000000"/><stop offset="0.821" stop-color="#000000"/><stop offset="0.857" stop-color="#000000"/><stop offset="0.893" stop-color="#000000"/><stop offset="0.929" stop-color="#000000"/><stop offset="0.964" stop-color="#000000"/><stop offset="1.000" stop-color="#000000"/></radialGradient>
<radialGradient id="h7" gradientUnits="userSpaceOnUse" cx="0" cy="0" r="3.5" gradientTransform="translate(966 86.8) scale(45 4.2)"><stop offset="0.000" stop-color="#040404"/><stop offset="0.036" stop-color="#040404"/><stop offset="0.071" stop-color="#030303"/><stop offset="0.107" stop-color="#030303"/><stop offset="0.143" stop-color="#030303"/><stop offset="0.179" stop-color="#030303"/><stop offset="0.214" stop-color="#030303"/><stop offset="0.250" stop-color="#020202"/><stop offset="0.286" stop-color="#020202"/><stop offset="0.321" stop-color="#020202"/><stop offset="0.357" stop-color="#020202"/><stop offset="0.393" stop-color="#010101"/><stop offset="0.429" stop-color="#010101"/><stop offset="0.464" stop-color="#010101"/><stop offset="0.500" stop-color="#010101"/><stop offset="0.536" stop-color="#010101"/><stop offset="0.571" stop-color="#000000"/><stop offset="0.607" stop-color="#000000"/><stop offset="0.643" stop-color="#000000"/><stop offset="0.679" stop-color="#000000"/><stop offset="0.714" stop-color="#000000"/><stop offset="0.750" stop-color="#000000"/><stop offset="0.786" stop-color="#000000"/><stop offset="0.821" stop-color="#000000"/><stop offset="0.857" stop-color="#000000"/><stop offset="0.893" stop-color="#000000"/><stop offset="0.929" stop-color="#000000"/><stop offset="0.964" stop-color="#000000"/><stop offset="1.000" stop-color="#000000"/></radialGradient>
<radialGradient id="h8" gradientUnits="userSpaceOnUse" cx="0" cy="0" r="3.5" gradientTransform="translate(963 72) scale(24 8)"><stop offset="0.000" stop-color="#040404"/><stop offset="0.036" stop-color="#040404"/><stop offset="0.071" stop-color="#030303"/><stop offset="0.107" stop-color="#030303"/><stop offset="0.143" stop-color="#030303"/><stop offset="0.179" stop-color="#030303"/><stop offset="0.214" stop-color="#030303"/><stop offset="0.250" stop-color="#020202"/><stop offset="0.286" stop-color="#020202"/><stop offset="0.321" stop-color="#020202"/><stop offset="0.357" stop-color="#020202"/><stop offset="0.393" stop-color="#010101"/><stop offset="0.429" stop-color="#010101"/><stop offset="0.464" stop-color="#010101"/><stop offset="0.500" stop-color="#010101"/><stop offset="0.536" stop-color="#010101"/><stop offset="0.571" stop-color="#000000"/><stop offset="0.607" stop-color="#000000"/><stop offset="0.643" stop-color="#000000"/><stop offset="0.679" stop-color="#000000"/><stop offset="0.714" stop-color="#000000"/><stop offset="0.750" stop-color="#000000"/><stop offset="0.786" stop-color="#000000"/><stop offset="0.821" stop-color="#000000"/><stop offset="0.857" stop-color="#000000"/><stop offset="0.893" stop-color="#000000"/><stop offset="0.929" stop-color="#000000"/><stop offset="0.964" stop-color="#000000"/><stop offset="1.000" stop-color="#000000"/></radialGradient>
<radialGradient id="h9" gradientUnits="userSpaceOnUse" cx="0" cy="0" r="3.5" gradientTransform="translate(961 120.5) scale(22 3)"><stop offset="0.000" stop-color="#050505"/><stop offset="0.036" stop-color="#050505"/><stop offset="0.071" stop-color="#050505"/><stop offset="0.107" stop-color="#050505"/><stop offset="0.143" stop-color="#050505"/><stop offset="0.179" stop-color="#040404"/><stop offset="0.214" stop-color="#040404"/><stop offset="0.250" stop-color="#030303"/><stop offset="0.286" stop-color="#030303"/><stop offset="0.321" stop-color="#030303"/><stop offset="0.357" stop-color="#020202"/><stop offset="0.393" stop-color="#020202"/><stop offset="0.429" stop-color="#020202"/><stop offset="0.464" stop-color="#010101"/><stop offset="0.500" stop-color="#010101"/><stop offset="0.536" stop-color="#010101"/><stop offset="0.571" stop-color="#010101"/><stop offset="0.607" stop-color="#010101"/><stop offset="0.643" stop-color="#000000"/><stop offset="0.679" stop-color="#000000"/><stop offset="0.714" stop-color="#000000"/><stop offset="0.750" stop-color="#000000"/><stop offset="0.786" stop-color="#000000"/><stop offset="0.821" stop-color="#000000"/><stop offset="0.857" stop-color="#000000"/><stop offset="0.893" stop-color="#000000"/><stop offset="0.929" stop-color="#000000"/><stop offset="0.964" stop-color="#000000"/><stop offset="1.000" stop-color="#000000"/></radialGradient>
<radialGradient id="h10" gradientUnits="userSpaceOnUse" cx="0" cy="0" r="3.5" gradientTransform="translate(962 180) scale(17 48)"><stop offset="0.000" stop-color="#020202"/><stop offset="0.036" stop-color="#020202"/><stop offset="0.071" stop-color="#010101"/><stop offset="0.107" stop-color="#010101"/><stop offset="0.143" stop-color="#010101"/><stop offset="0.179" stop-color="#010101"/><stop offset="0.214" stop-color="#010101"/><stop offset="0.250" stop-color="#010101"/><stop offset="0.286" stop-color="#010101"/><stop offset="0.321" stop-color="#010101"/><stop offset="0.357" stop-color="#010101"/><stop offset="0.393" stop-color="#010101"/><stop offset="0.429" stop-color="#000000"/><stop offset="0.464" stop-color="#000000"/><stop offset="0.500" stop-color="#000000"/><stop offset="0.536" stop-color="#000000"/><stop offset="0.571" stop-color="#000000"/><stop offset="0.607" stop-color="#000000"/><stop offset="0.643" stop-color="#000000"/><stop offset="0.679" stop-color="#000000"/><stop offset="0.714" stop-color="#000000"/><stop offset="0.750" stop-color="#000000"/><stop offset="0.786" stop-color="#000000"/><stop offset="0.821" stop-color="#000000"/><stop offset="0.857" stop-color="#000000"/><stop offset="0.893" stop-color="#000000"/><stop offset="0.929" stop-color="#000000"/><stop offset="0.964" stop-color="#000000"/><stop offset="1.000" stop-color="#000000"/></radialGradient>
<radialGradient id="h11" gradientUnits="userSpaceOnUse" cx="0" cy="0" r="3.5" gradientTransform="translate(962 280) scale(15 50)"><stop offset="0.000" stop-color="#010101"/><stop offset="0.036" stop-color="#010101"/><stop offset="0.071" stop-color="#010101"/><stop offset="0.107" stop-color="#010101"/><stop offset="0.143" stop-color="#010101"/><stop offset="0.179" stop-color="#010101"/><stop offset="0.214" stop-color="#010101"/><stop offset="0.250" stop-color="#010101"/><stop offset="0.286" stop-color="#010101"/><stop offset="0.321" stop-color="#010101"/><stop offset="0.357" stop-color="#000000"/><stop offset="0.393" stop-color="#000000"/><stop offset="0.429" stop-color="#000000"/><stop offset="0.464" stop-color="#000000"/><stop offset="0.500" stop-color="#000000"/><stop offset="0.536" stop-color="#000000"/><stop offset="0.571" stop-color="#000000"/><stop offset="0.607" stop-color="#000000"/><stop offset="0.643" stop-color="#000000"/><stop offset="0.679" stop-color="#000000"/><stop offset="0.714" stop-color="#000000"/><stop offset="0.750" stop-color="#000000"/><stop offset="0.786" stop-color="#000000"/><stop offset="0.821" stop-color="#000000"/><stop offset="0.857" stop-color="#000000"/><stop offset="0.893" stop-color="#000000"/><stop offset="0.929" stop-color="#000000"/><stop offset="0.964" stop-color="#000000"/><stop offset="1.000" stop-color="#000000"/></radialGradient>
<radialGradient id="h12" gradientUnits="userSpaceOnUse" cx="0" cy="0" r="3.5" gradientTransform="translate(957 150) scale(14 9)"><stop offset="0.000" stop-color="#010101"/><stop offset="0.036" stop-color="#010101"/><stop offset="0.071" stop-color="#010101"/><stop offset="0.107" stop-color="#010101"/><stop offset="0.143" stop-color="#010101"/><stop offset="0.179" stop-color="#010101"/><stop offset="0.214" stop-color="#010101"/><stop offset="0.250" stop-color="#010101"/><stop offset="0.286" stop-color="#010101"/><stop offset="0.321" stop-color="#010101"/><stop offset="0.357" stop-color="#010101"/><stop offset="0.393" stop-color="#010101"/><stop offset="0.429" stop-color="#000000"/><stop offset="0.464" stop-color="#000000"/><stop offset="0.500" stop-color="#000000"/><stop offset="0.536" stop-color="#000000"/><stop offset="0.571" stop-color="#000000"/><stop offset="0.607" stop-color="#000000"/><stop offset="0.643" stop-color="#000000"/><stop offset="0.679" stop-color="#000000"/><stop offset="0.714" stop-color="#000000"/><stop offset="0.750" stop-color="#000000"/><stop offset="0.786" stop-color="#000000"/><stop offset="0.821" stop-color="#000000"/><stop offset="0.857" stop-color="#000000"/><stop offset="0.893" stop-color="#000000"/><stop offset="0.929" stop-color="#000000"/><stop offset="0.964" stop-color="#000000"/><stop offset="1.000" stop-color="#000000"/></radialGradient>
<radialGradient id="h13" gradientUnits="userSpaceOnUse" cx="0" cy="0" r="3.5" gradientTransform="translate(968 175) scale(10 8)"><stop offset="0.000" stop-color="#010101"/><stop offset="0.036" stop-color="#010101"/><stop offset="0.071" stop-color="#010101"/><stop offset="0.107" stop-color="#010101"/><stop offset="0.143" stop-color="#010101"/><stop offset="0.179" stop-color="#010101"/><stop offset="0.214" stop-color="#010101"/><stop offset="0.250" stop-color="#010101"/><stop offset="0.286" stop-color="#010101"/><stop offset="0.321" stop-color="#010101"/><stop offset="0.357" stop-color="#010101"/><stop offset="0.393" stop-color="#000000"/><stop offset="0.429" stop-color="#000000"/><stop offset="0.464" stop-color="#000000"/><stop offset="0.500" stop-color="#000000"/><stop offset="0.536" stop-color="#000000"/><stop offset="0.571" stop-color="#000000"/><stop offset="0.607" stop-color="#000000"/><stop offset="0.643" stop-color="#000000"/><stop offset="0.679" stop-color="#000000"/><stop offset="0.714" stop-color="#000000"/><stop offset="0.750" stop-color="#000000"/><stop offset="0.786" stop-color="#000000"/><stop offset="0.821" stop-color="#000000"/><stop offset="0.857" stop-color="#000000"/><stop offset="0.893" stop-color="#000000"/><stop offset="0.929" stop-color="#000000"/><stop offset="0.964" stop-color="#000000"/><stop offset="1.000" stop-color="#000000"/></radialGradient>
<radialGradient id="h14" gradientUnits="userSpaceOnUse" cx="0" cy="0" r="3.5" gradientTransform="translate(952 205) scale(8 7)"><stop offset="0.000" stop-color="#010101"/><stop offset="0.036" stop-color="#010101"/><stop offset="0.071" stop-color="#010101"/><stop offset="0.107" stop-color="#010101"/><stop offset="0.143" stop-color="#010101"/><stop offset="0.179" stop-color="#010101"/><stop offset="0.214" stop-color="#010101"/><stop offset="0.250" stop-color="#010101"/><stop offset="0.286" stop-color="#010101"/><stop offset="0.321" stop-color="#010101"/><stop offset="0.357" stop-color="#000000"/><stop offset="0.393" stop-color="#000000"/><stop offset="0.429" stop-color="#000000"/><stop offset="0.464" stop-color="#000000"/><stop offset="0.500" stop-color="#000000"/><stop offset="0.536" stop-color="#000000"/><stop offset="0.571" stop-color="#000000"/><stop offset="0.607" stop-color="#000000"/><stop offset="0.643" stop-color="#000000"/><stop offset="0.679" stop-color="#000000"/><stop offset="0.714" stop-color="#000000"/><stop offset="0.750" stop-color="#000000"/><stop offset="0.786" stop-color="#000000"/><stop offset="0.821" stop-color="#000000"/><stop offset="0.857" stop-color="#000000"/><stop offset="0.893" stop-color="#000000"/><stop offset="0.929" stop-color="#000000"/><stop offset="0.964" stop-color="#000000"/><stop offset="1.000" stop-color="#000000"/></radialGradient>
<radialGradient id="h15" gradientUnits="userSpaceOnUse" cx="0" cy="0" r="3.5" gradientTransform="translate(970 235) scale(9 8)"><stop offset="0.000" stop-color="#010101"/><stop offset="0.036" stop-color="#010101"/><stop offset="0.071" stop-color="#010101"/><stop offset="0.107" stop-color="#010101"/><stop offset="0.143" stop-color="#010101"/><stop offset="0.179" stop-color="#010101"/><stop offset="0.214" stop-color="#010101"/><stop offset="0.250" stop-color="#010101"/><stop offset="0.286" stop-color="#010101"/><stop offset="0.321" stop-color="#010101"/><stop offset="0.357" stop-color="#000000"/><stop offset="0.393" stop-color="#000000"/><stop offset="0.429" stop-color="#000000"/><stop offset="0.464" stop-color="#000000"/><stop offset="0.500" stop-color="#000000"/><stop offset="0.536" stop-color="#000000"/><stop offset="0.571" stop-color="#000000"/><stop offset="0.607" stop-color="#000000"/><stop offset="0.643" stop-color="#000000"/><stop offset="0.679" stop-color="#000000"/><stop offset="0.714" stop-color="#000000"/><stop offset="0.750" stop-color="#000000"/><stop offset="0.786" stop-color="#000000"/><stop offset="0.821" stop-color="#000000"/><stop offset="0.857" stop-color="#000000"/><stop offset="0.893" stop-color="#000000"/><stop offset="0.929" stop-color="#000000"/><stop offset="0.964" stop-color="#000000"/><stop offset="1.000" stop-color="#000000"/></radialGradient>
<radialGradient id="h16" gradientUnits="userSpaceOnUse" cx="0" cy="0" r="3.5" gradientTransform="translate(960 262) scale(10 9)"><stop offset="0.000" stop-color="#010101"/><stop offset="0.036" stop-color="#010101"/><stop offset="0.071" stop-color="#010101"/><stop offset="0.107" stop-color="#010101"/><stop offset="0.143" stop-color="#010101"/><stop offset="0.179" stop-color="#010101"/><stop offset="0.214" stop-color="#010101"/><stop offset="0.250" stop-color="#010101"/><stop offset="0.286" stop-color="#010101"/><stop offset="0.321" stop-color="#010101"/><stop offset="0.357" stop-color="#010101"/><stop offset="0.393" stop-color="#000000"/><stop offset="0.429" stop-color="#000000"/><stop offset="0.464" stop-color="#000000"/><stop offset="0.500" stop-color="#000000"/><stop offset="0.536" stop-color="#000000"/><stop offset="0.571" stop-color="#000000"/><stop offset="0.607" stop-color="#000000"/><stop offset="0.643" stop-color="#000000"/><stop offset="0.679" stop-color="#000000"/><stop offset="0.714" stop-color="#000000"/><stop offset="0.750" stop-color="#000000"/><stop offset="0.786" stop-color="#000000"/><stop offset="0.821" stop-color="#000000"/><stop offset="0.857" stop-color="#000000"/><stop offset="0.893" stop-color="#000000"/><stop offset="0.929" stop-color="#000000"/><stop offset="0.964" stop-color="#000000"/><stop offset="1.000" stop-color="#000000"/></radialGradient>
<radialGradient id="h17" gradientUnits="userSpaceOnUse" cx="0" cy="0" r="3.5" gradientTransform="translate(948 288) scale(9 7)"><stop offset="0.000" stop-color="#010101"/><stop offset="0.036" stop-color="#010101"/><stop offset="0.071" stop-color="#010101"/><stop offset="0.107" stop-color="#010101"/><stop offset="0.143" stop-color="#010101"/><stop offset="0.179" stop-color="#010101"/><stop offset="0.214" stop-color="#010101"/><stop offset="0.250" stop-color="#010101"/><stop offset="0.286" stop-color="#010101"/><stop offset="0.321" stop-color="#000000"/><stop offset="0.357" stop-color="#000000"/><stop offset="0.393" stop-color="#000000"/><stop offset="0.429" stop-color="#000000"/><stop offset="0.464" stop-color="#000000"/><stop offset="0.500" stop-color="#000000"/><stop offset="0.536" stop-color="#000000"/><stop offset="0.571" stop-color="#000000"/><stop offset="0.607" stop-color="#000000"/><stop offset="0.643" stop-color="#000000"/><stop offset="0.679" stop-color="#000000"/><stop offset="0.714" stop-color="#000000"/><stop offset="0.750" stop-color="#000000"/><stop offset="0.786" stop-color="#000000"/><stop offset="0.821" stop-color="#000000"/><stop offset="0.857" stop-color="#000000"/><stop offset="0.893" stop-color="#000000"/><stop offset="0.929" stop-color="#000000"/><stop offset="0.964" stop-color="#000000"/><stop offset="1.000" stop-color="#000000"/></radialGradient>
<radialGradient id="h18" gradientUnits="userSpaceOnUse" cx="0" cy="0" r="3.5" gradientTransform="translate(966 318) scale(9 10)"><stop offset="0.000" stop-color="#010101"/><stop offset="0.036" stop-color="#010101"/><stop offset="0.071" stop-color="#010101"/><stop offset="0.107" stop-color="#010101"/><stop offset="0.143" stop-color="#010101"/><stop offset="0.179" stop-color="#010101"/><stop offset="0.214" stop-color="#010101"/><stop offset="0.250" stop-color="#010101"/><stop offset="0.286" stop-color="#010101"/><stop offset="0.321" stop-color="#010101"/><stop offset="0.357" stop-color="#010101"/><stop offset="0.393" stop-color="#000000"/><stop offset="0.429" stop-color="#000000"/><stop offset="0.464" stop-color="#000000"/><stop offset="0.500" stop-color="#000000"/><stop offset="0.536" stop-color="#000000"/><stop offset="0.571" stop-color="#000000"/><stop offset="0.607" stop-color="#000000"/><stop offset="0.643" stop-color="#000000"/><stop offset="0.679" stop-color="#000000"/><stop offset="0.714" stop-color="#000000"/><stop offset="0.750" stop-color="#000000"/><stop offset="0.786" stop-color="#000000"/><stop offset="0.821" stop-color="#000000"/><stop offset="0.857" stop-color="#000000"/><stop offset="0.893" stop-color="#000000"/><stop offset="0.929" stop-color="#000000"/><stop offset="0.964" stop-color="#000000"/><stop offset="1.000" stop-color="#000000"/></radialGradient>
<radialGradient id="h19" gradientUnits="userSpaceOnUse" cx="0" cy="0" r="3.5" gradientTransform="translate(955 350) scale(9 8)"><stop offset="0.000" stop-color="#010101"/><stop offset="0.036" stop-color="#010101"/><stop offset="0.071" stop-color="#010101"/><stop offset="0.107" stop-color="#010101"/><stop offset="0.143" stop-color="#010101"/><stop offset="0.179" stop-color="#010101"/><stop offset="0.214" stop-color="#010101"/><stop offset="0.250" stop-color="#010101"/><stop offset="0.286" stop-color="#010101"/><stop offset="0.321" stop-color="#000000"/><stop offset="0.357" stop-color="#000000"/><stop offset="0.393" stop-color="#000000"/><stop offset="0.429" stop-color="#000000"/><stop offset="0.464" stop-color="#000000"/><stop offset="0.500" stop-color="#000000"/><stop offset="0.536" stop-color="#000000"/><stop offset="0.571" stop-color="#000000"/><stop offset="0.607" stop-color="#000000"/><stop offset="0.643" stop-color="#000000"/><stop offset="0.679" stop-color="#000000"/><stop offset="0.714" stop-color="#000000"/><stop offset="0.750" stop-color="#000000"/><stop offset="0.786" stop-color="#000000"/><stop offset="0.821" stop-color="#000000"/><stop offset="0.857" stop-color="#000000"/><stop offset="0.893" stop-color="#000000"/><stop offset="0.929" stop-color="#000000"/><stop offset="0.964" stop-color="#000000"/><stop offset="1.000" stop-color="#000000"/></radialGradient>
<radialGradient id="h20" gradientUnits="userSpaceOnUse" cx="0" cy="0" r="3.5" gradientTransform="translate(958 325) scale(8 6)"><stop offset="0.000" stop-color="#010101"/><stop offset="0.036" stop-color="#010101"/><stop offset="0.071" stop-color="#010101"/><stop offset="0.107" stop-color="#010101"/><stop offset="0.143" stop-color="#010101"/><stop offset="0.179" stop-color="#010101"/><stop offset="0.214" stop-color="#010101"/><stop offset="0.250" stop-color="#010101"/><stop offset="0.286" stop-color="#010101"/><stop offset="0.321" stop-color="#000000"/><stop offset="0.357" stop-color="#000000"/><stop offset="0.393" stop-color="#000000"/><stop offset="0.429" stop-color="#000000"/><stop offset="0.464" stop-color="#000000"/><stop offset="0.500" stop-color="#000000"/><stop offset="0.536" stop-color="#000000"/><stop offset="0.571" stop-color="#000000"/><stop offset="0.607" stop-color="#000000"/><stop offset="0.643" stop-color="#000000"/><stop offset="0.679" stop-color="#000000"/><stop offset="0.714" stop-color="#000000"/><stop offset="0.750" stop-color="#000000"/><stop offset="0.786" stop-color="#000000"/><stop offset="0.821" stop-color="#000000"/><stop offset="0.857" stop-color="#000000"/><stop offset="0.893" stop-color="#000000"/><stop offset="0.929" stop-color="#000000"/><stop offset="0.964" stop-color="#000000"/><stop offset="1.000" stop-color="#000000"/></radialGradient>
<g clip-path="url(#c2)"><g filter="url(#heat)"><rect x="699.76" y="47.81" width="532.43" height="532.43" fill="#000"/><g style="mix-blend-mode:plus-lighter">
<ellipse cx="960" cy="109.8" rx="47.25" ry="11.55" fill="url(#h1)" style="mix-blend-mode:plus-lighter"/>
<ellipse cx="960.5" cy="109.8" rx="112" ry="12.25" fill="url(#h2)" style="mix-blend-mode:plus-lighter"/>
<ellipse cx="962" cy="109.8" rx="168" ry="12.6" fill="url(#h3)" style="mix-blend-mode:plus-lighter"/>
<ellipse cx="962" cy="109.8" rx="455" ry="11.2" fill="url(#h4)" style="mix-blend-mode:plus-lighter"/>
<ellipse cx="965.8" cy="87" rx="66.5" ry="15.05" fill="url(#h5)" style="mix-blend-mode:plus-lighter"/>
<ellipse cx="965" cy="85.8" rx="133" ry="21" fill="url(#h6)" style="mix-blend-mode:plus-lighter"/>
<ellipse cx="966" cy="86.8" rx="157.5" ry="14.7" fill="url(#h7)" style="mix-blend-mode:plus-lighter"/>
<ellipse cx="963" cy="72" rx="84" ry="28" fill="url(#h8)" style="mix-blend-mode:plus-lighter"/>
<ellipse cx="961" cy="120.5" rx="77" ry="10.5" fill="url(#h9)" style="mix-blend-mode:plus-lighter"/>
<ellipse cx="962" cy="180" rx="59.5" ry="168" fill="url(#h10)" style="mix-blend-mode:plus-lighter"/>
<ellipse cx="962" cy="280" rx="52.5" ry="175" fill="url(#h11)" style="mix-blend-mode:plus-lighter"/>
<ellipse cx="957" cy="150" rx="49" ry="31.5" fill="url(#h12)" style="mix-blend-mode:plus-lighter"/>
<ellipse cx="968" cy="175" rx="35" ry="28" fill="url(#h13)" style="mix-blend-mode:plus-lighter"/>
<ellipse cx="952" cy="205" rx="28" ry="24.5" fill="url(#h14)" style="mix-blend-mode:plus-lighter"/>
<ellipse cx="970" cy="235" rx="31.5" ry="28" fill="url(#h15)" style="mix-blend-mode:plus-lighter"/>
<ellipse cx="960" cy="262" rx="35" ry="31.5" fill="url(#h16)" style="mix-blend-mode:plus-lighter"/>
<ellipse cx="948" cy="288" rx="31.5" ry="24.5" fill="url(#h17)" style="mix-blend-mode:plus-lighter"/>
<ellipse cx="966" cy="318" rx="31.5" ry="35" fill="url(#h18)" style="mix-blend-mode:plus-lighter"/>
<ellipse cx="955" cy="350" rx="31.5" ry="28" fill="url(#h19)" style="mix-blend-mode:plus-lighter"/>
<ellipse cx="958" cy="325" rx="28" ry="21" fill="url(#h20)" style="mix-blend-mode:plus-lighter"/>
</g></g></g>
<path d="M914.64 580.24V47.81" stroke="#006400" stroke-width="1.5" stroke-dasharray="6 6" stroke-linecap="round" fill="none"/>
<path d="M1016.16 580.24V47.81" stroke="#006400" stroke-width="1.5" stroke-dasharray="6 6" stroke-linecap="round" fill="none"/>
<path d="M699.76 360.63H1232.19" stroke="#CD2626" stroke-width="1.5" stroke-dasharray="6 6" stroke-linecap="round" fill="none"/>
<rect x="699.76" y="47.81" width="532.43" height="532.43" fill="none" stroke="#000" stroke-width="0.75"/>
<path d="M749.4 580.24H1181.4M749.4 580.24v5.98M857.4 580.24v5.98M965.4 580.24v5.98M1073.4 580.24v5.98M1181.4 580.24v5.98" stroke="#000" stroke-width="0.75" fill="none"/>
<text x="749.4" y="601.75" font-size="10.67" text-anchor="middle">-400</text>
<text x="857.4" y="601.75" font-size="10.67" text-anchor="middle">-200</text>
<text x="965.4" y="601.75" font-size="10.67" text-anchor="middle">0</text>
<text x="1073.4" y="601.75" font-size="10.67" text-anchor="middle">200</text>
<text x="1181.4" y="601.75" font-size="10.67" text-anchor="middle">400</text>
<path d="M699.76 86.9V528.4M699.76 528.4h-5.98M699.76 440.1h-5.98M699.76 351.8h-5.98M699.76 263.5h-5.98M699.76 175.2h-5.98M699.76 86.9h-5.98" stroke="#000" stroke-width="0.75" fill="none"/>
<text transform="translate(685.42 528.4) rotate(-90)" font-size="10.67" text-anchor="middle">70</text>
<text transform="translate(685.42 440.1) rotate(-90)" font-size="10.67" text-anchor="middle">75</text>
<text transform="translate(685.42 351.8) rotate(-90)" font-size="10.67" text-anchor="middle">80</text>
<text transform="translate(685.42 263.5) rotate(-90)" font-size="10.67" text-anchor="middle">85</text>
<text transform="translate(685.42 175.2) rotate(-90)" font-size="10.67" text-anchor="middle">90</text>
<text transform="translate(685.42 86.9) rotate(-90)" font-size="10.67" text-anchor="middle">95</text>
<text x="965.98" y="625.66" font-size="15.93" text-anchor="middle">Distance to peak summit</text>
<text transform="translate(661.51 314.52) rotate(-90)" font-size="15.7" text-anchor="middle">Motif score</text>
<text x="965.98" y="31.85" font-size="21.5" font-weight="bold" text-anchor="middle">Density heat map for the top hits</text>
<path d="M79.5 1200.5L79.69 1200.47L80.22 1200.4L81 1200.29L81.98 1200.17L83.07 1200.05L84.2 1199.94L85.3 1199.85L86.3 1199.8L87.09 1199.79L87.9 1199.82L88.71 1199.86L89.54 1199.91L90.38 1199.98L91.23 1200.05L92.11 1200.12L93 1200.19L93.91 1200.24L94.84 1200.28L95.8 1200.3L96.53 1200.3L97.29 1200.29L98.07 1200.27L98.87 1200.24L99.69 1200.21L100.52 1200.17L101.37 1200.12L102.22 1200.08L103.08 1200.03L103.94 1199.98L104.8 1199.93L105.66 1199.88L106.51 1199.84L107.35 1199.8L108.18 1199.76L108.99 1199.73L109.78 1199.71L110.55 1199.7L111.3 1199.7L112.22 1199.71L113.1 1199.74L113.95 1199.78L114.77 1199.83L115.58 1199.89L116.39 1199.95L117.19 1200.01L118.01 1200.06L118.86 1200.11L119.73 1200.16L120.64 1200.19L121.6 1200.2L122.32 1200.2L123.07 1200.19L123.85 1200.18L124.65 1200.16L125.48 1200.14L126.33 1200.11L127.2 1200.08L128.08 1200.04L128.97 1200L129.87 1199.96L130.77 1199.92L131.66 1199.87L132.56 1199.83L133.44 1199.79L134.32 1199.74L135.18 1199.7L136.02 1199.66L136.84 1199.62L137.64 1199.59L138.4 1199.56L139.14 1199.54L139.84 1199.51L140.5 1199.5L141.5 1199.48L142.44 1199.47L143.32 1199.45L144.16 1199.44L144.96 1199.44L145.76 1199.44L146.55 1199.45L147.36 1199.47L148.2 1199.5L149.05 1199.55L149.89 1199.61L150.72 1199.69L151.56 1199.78L152.4 1199.87L153.25 1199.95L154.11 1200.02L154.99 1200.07L155.9 1200.1L156.65 1200.1L157.41 1200.09L158.19 1200.06L158.99 1200.02L159.79 1199.98L160.6 1199.93L161.41 1199.87L162.23 1199.81L163.05 1199.76L163.87 1199.71L164.69 1199.66L165.5 1199.63L166.3 1199.6L167.16 1199.58L168.03 1199.58L168.9 1199.57L169.77 1199.58L170.64 1199.58L171.51 1199.59L172.38 1199.6L173.24 1199.61L174.09 1199.61L174.94 1199.61L175.77 1199.61L176.6 1199.6L177.5 1199.59L178.39 1199.59L179.28 1199.6L180.16 1199.61L181.03 1199.6L181.9 1199.59L182.75 1199.56L183.58 1199.5L184.4 1199.42L185.2 1199.3L186.07 1199.09L186.92 1198.79L187.75 1198.43L188.56 1198.06L189.36 1197.72L190.15 1197.43L190.93 1197.25L191.7 1197.2L192.5 1197.33L193.27 1197.62L194.02 1198.01L194.77 1198.44L195.53 1198.88L196.34 1199.25L197.2 1199.5L197.98 1199.63L198.81 1199.71L199.67 1199.76L200.56 1199.77L201.46 1199.76L202.37 1199.73L203.27 1199.68L204.15 1199.62L204.99 1199.56L205.8 1199.5L206.71 1199.4L207.56 1199.27L208.39 1199.11L209.21 1198.95L210.04 1198.8L210.89 1198.68L211.8 1198.6L212.6 1198.58L213.44 1198.61L214.31 1198.66L215.2 1198.74L216.1 1198.82L217 1198.91L217.89 1198.98L218.76 1199.02L219.6 1199.03L220.4 1199L221.32 1198.9L222.2 1198.76L223.05 1198.59L223.89 1198.39L224.72 1198.19L225.55 1197.99L226.4 1197.8L227.26 1197.6L228.13 1197.37L228.99 1197.14L229.86 1196.91L230.71 1196.72L231.56 1196.57L232.4 1196.5L233.28 1196.52L234.14 1196.62L235 1196.77L235.85 1196.94L236.71 1197.09L237.6 1197.2L238.44 1197.27L239.3 1197.35L240.17 1197.42L241.04 1197.47L241.91 1197.49L242.77 1197.47L243.6 1197.4L244.48 1197.24L245.32 1197L246.14 1196.71L246.98 1196.41L247.86 1196.13L248.8 1195.9L249.57 1195.76L250.39 1195.61L251.26 1195.48L252.14 1195.35L253.04 1195.24L253.95 1195.14L254.84 1195.07L255.7 1195.02L256.53 1194.99L257.3 1195L258.25 1195.11L259.14 1195.33L260 1195.59L260.84 1195.81L261.67 1195.94L262.5 1195.9L263.26 1195.64L264.01 1195.2L264.74 1194.65L265.48 1194.06L266.21 1193.52L266.95 1193.11L267.7 1192.9L268.52 1192.94L269.33 1193.18L270.15 1193.54L270.98 1193.94L271.86 1194.29L272.8 1194.5L273.56 1194.57L274.37 1194.59L275.2 1194.59L276.06 1194.55L276.95 1194.48L277.84 1194.4L278.74 1194.3L279.64 1194.2L280.53 1194.1L281.4 1194L282.21 1193.9L283.03 1193.77L283.87 1193.63L284.7 1193.48L285.53 1193.31L286.36 1193.16L287.18 1193L287.99 1192.87L288.78 1192.75L289.55 1192.66L290.3 1192.6L291.22 1192.6L292.11 1192.68L292.98 1192.8L293.82 1192.92L294.65 1193L295.48 1193.01L296.3 1192.9L297.14 1192.61L297.98 1192.17L298.8 1191.63L299.61 1191.08L300.42 1190.57L301.21 1190.19L302 1190L302.78 1190.04L303.54 1190.24L304.3 1190.55L305.05 1190.89L305.81 1191.19L306.6 1191.4L307.44 1191.49L308.31 1191.5L309.18 1191.48L310.06 1191.46L310.94 1191.49L311.8 1191.6L312.68 1191.84L313.56 1192.18L314.43 1192.56L315.3 1192.94L316.16 1193.27L317 1193.5L317.88 1193.64L318.75 1193.73L319.61 1193.76L320.46 1193.71L321.3 1193.6L322.15 1193.32L322.98 1192.87L323.8 1192.4L324.64 1192.03L325.5 1191.9L326.21 1192.04L326.91 1192.37L327.62 1192.83L328.35 1193.33L329.1 1193.82L329.88 1194.23L330.7 1194.5L331.48 1194.62L332.32 1194.68L333.19 1194.68L334.08 1194.63L334.98 1194.55L335.87 1194.44L336.75 1194.3L337.6 1194.16L338.4 1194L339.24 1193.78L340.04 1193.49L340.82 1193.15L341.58 1192.82L342.34 1192.51L343.11 1192.26L343.9 1192.1L344.7 1192.03L345.51 1192.01L346.33 1192.04L347.15 1192.11L347.97 1192.23L348.79 1192.4L349.6 1192.6L350.35 1192.87L351.08 1193.23L351.8 1193.65L352.52 1194.09L353.25 1194.53L354 1194.94L354.78 1195.27L355.6 1195.5L356.4 1195.6L357.25 1195.62L358.14 1195.57L359.05 1195.47L359.97 1195.35L360.89 1195.21L361.78 1195.09L362.65 1195L363.46 1194.97L364.2 1195L365.13 1195.19L365.94 1195.48L366.72 1195.8L367.54 1196.06L368.5 1196.2L369.15 1196.2L369.85 1196.13L370.59 1196.02L371.37 1195.86L372.17 1195.68L373 1195.48L373.85 1195.26L374.7 1195.05L375.55 1194.84L376.39 1194.66L377.22 1194.5L378.02 1194.37L378.8 1194.3L379.68 1194.26L380.54 1194.25L381.38 1194.26L382.21 1194.29L383.04 1194.34L383.87 1194.41L384.72 1194.49L385.58 1194.59L386.48 1194.69L387.4 1194.8L388.15 1194.9L388.93 1195.03L389.74 1195.17L390.58 1195.34L391.44 1195.52L392.3 1195.7L393.18 1195.89L394.05 1196.08L394.92 1196.27L395.77 1196.45L396.61 1196.61L397.42 1196.76L398.2 1196.89L398.94 1196.99L399.65 1197.06L400.3 1197.1L401.28 1197.09L402.15 1197L402.96 1196.87L403.75 1196.72L404.58 1196.59L405.5 1196.5L406.28 1196.46L407.11 1196.41L407.98 1196.37L408.88 1196.33L409.79 1196.31L410.7 1196.3L411.6 1196.31L412.48 1196.35L413.31 1196.41L414.1 1196.5L414.95 1196.67L415.75 1196.92L416.52 1197.2L417.27 1197.49L418.03 1197.76L418.8 1197.97L419.6 1198.1L420.38 1198.13L421.19 1198.11L422 1198.03L422.83 1197.92L423.65 1197.79L424.48 1197.65L425.3 1197.52L426.1 1197.4L426.97 1197.28L427.83 1197.13L428.69 1196.98L429.54 1196.83L430.39 1196.7L431.24 1196.58L432.1 1196.5L432.96 1196.46L433.83 1196.46L434.71 1196.49L435.58 1196.52L436.44 1196.54L437.28 1196.54L438.1 1196.5L438.93 1196.38L439.72 1196.18L440.51 1195.96L441.29 1195.78L442.08 1195.67L442.9 1195.7L443.67 1195.89L444.45 1196.24L445.25 1196.69L446.06 1197.19L446.87 1197.68L447.69 1198.12L448.5 1198.44L449.3 1198.6L450.16 1198.57L451.03 1198.38L451.89 1198.09L452.75 1197.75L453.61 1197.4L454.46 1197.1L455.3 1196.9L456.18 1196.8L457.06 1196.77L457.92 1196.78L458.79 1196.79L459.64 1196.78L460.5 1196.7L461.36 1196.55L462.2 1196.34L463.05 1196.1L463.9 1195.86L464.74 1195.65L465.6 1195.5L466.47 1195.44L467.36 1195.47L468.25 1195.52L469.13 1195.55L469.99 1195.49L470.8 1195.3L471.56 1194.91L472.27 1194.34L472.95 1193.7L473.63 1193.05L474.34 1192.49L475.1 1192.1L475.9 1191.86L476.75 1191.69L477.62 1191.6L478.5 1191.6L479.37 1191.7L480.2 1191.9L480.88 1192.22L481.54 1192.7L482.19 1193.29L482.83 1193.93L483.47 1194.57L484.11 1195.14L484.75 1195.61L485.4 1195.9L486.26 1196.01L487.12 1195.91L487.98 1195.72L488.84 1195.55L489.7 1195.5L490.57 1195.65L491.47 1195.93L492.36 1196.22L493.18 1196.41L493.9 1196.4L494.65 1196.08L495.28 1195.54L495.9 1194.8L496.24 1194.27L496.57 1193.6L496.9 1192.83L497.22 1191.98L497.54 1191.11L497.87 1190.23L498.2 1189.4L498.55 1188.64L498.91 1188L499.3 1187.5L500.19 1186.96L501.13 1186.68L501.9 1186.2L502.37 1185.27L502.71 1184.04L502.93 1182.96L503 1182.5L502.91 1180.62L503.87 1153.9L504.83 1104.69L505.8 1027.69L506.76 927.11L507.72 821.1L508.69 738.68L509.65 707.4L510.61 738.68L511.58 821.1L512.54 927.11L513.5 1027.69L514.47 1104.69L515.43 1153.9L516.39 1180.62L516.4 1182.5L516.45 1182.7L516.6 1183.24L516.82 1184.04L517.08 1185.03L517.38 1186.12L517.7 1187.25L518 1188.32L518.27 1189.26L518.5 1190L518.81 1191.12L519.1 1192.08L519.4 1192.5L519.76 1192.12L520.15 1191.17L520.5 1190L520.63 1189.47L520.74 1188.88L520.85 1188.23L520.95 1187.52L521.04 1186.77L521.13 1185.98L521.21 1185.16L521.28 1184.3L521.36 1183.43L521.43 1182.53L521.5 1181.63L521.57 1180.71L521.64 1179.8L521.72 1178.89L521.8 1178L521.87 1177.28L521.93 1176.54L522 1175.8L522.06 1175.05L522.12 1174.29L522.19 1173.52L522.25 1172.74L522.31 1171.96L522.38 1171.16L522.44 1170.36L522.5 1169.56L522.56 1168.74L522.62 1167.92L522.68 1167.1L522.74 1166.27L522.8 1165.43L522.86 1164.6L522.92 1163.75L522.97 1162.91L523.03 1162.06L523.09 1161.21L523.14 1160.36L523.2 1159.5L523.25 1158.72L523.3 1157.94L523.35 1157.15L523.39 1156.35L523.44 1155.54L523.49 1154.73L523.53 1153.91L523.58 1153.09L523.62 1152.26L523.67 1151.43L523.71 1150.59L523.76 1149.76L523.8 1148.92L523.84 1148.07L523.89 1147.23L523.93 1146.39L523.97 1145.54L524.01 1144.7L524.06 1143.85L524.1 1143.01L524.14 1142.17L524.19 1141.34L524.23 1140.5L524.27 1139.67L524.32 1138.85L524.36 1138.03L524.41 1137.21L524.45 1136.4L524.5 1135.6L524.55 1134.76L524.6 1133.92L524.65 1133.08L524.69 1132.24L524.74 1131.4L524.79 1130.56L524.84 1129.72L524.89 1128.88L524.94 1128.05L524.99 1127.22L525.03 1126.39L525.08 1125.56L525.13 1124.73L525.18 1123.91L525.23 1123.09L525.28 1122.28L525.33 1121.47L525.38 1120.66L525.43 1119.86L525.48 1119.06L525.54 1118.27L525.59 1117.48L525.64 1116.7L525.69 1115.93L525.75 1115.16L525.8 1114.4L525.86 1113.54L525.92 1112.68L525.97 1111.82L526.02 1110.96L526.07 1110.11L526.12 1109.25L526.17 1108.4L526.22 1107.56L526.28 1106.73L526.33 1105.9L526.39 1105.08L526.45 1104.28L526.51 1103.49L526.58 1102.71L526.65 1101.94L526.72 1101.2L526.81 1100.47L526.9 1099.76L527 1099.07L527.1 1098.4L527.26 1097.48L527.43 1096.59L527.61 1095.74L527.8 1094.91L528 1094.11L528.21 1093.34L528.42 1092.59L528.64 1091.87L528.87 1091.17L529.1 1090.5L529.49 1089.4L529.91 1088.24L530.34 1087.2L530.74 1086.46L531.1 1086.2L531.33 1086.4L531.54 1086.91L531.73 1087.66L531.91 1088.59L532.07 1089.66L532.22 1090.78L532.36 1091.92L532.5 1093L532.58 1093.64L532.66 1094.3L532.72 1094.99L532.79 1095.7L532.85 1096.42L532.9 1097.17L532.95 1097.93L533 1098.71L533.05 1099.51L533.09 1100.32L533.13 1101.14L533.17 1101.98L533.21 1102.83L533.25 1103.69L533.29 1104.55L533.33 1105.43L533.37 1106.31L533.41 1107.21L533.45 1108.1L533.5 1109L533.54 1109.71L533.58 1110.43L533.61 1111.17L533.65 1111.92L533.69 1112.68L533.72 1113.45L533.76 1114.22L533.79 1115.01L533.83 1115.81L533.87 1116.61L533.9 1117.42L533.94 1118.24L533.97 1119.06L534.01 1119.89L534.04 1120.72L534.08 1121.55L534.11 1122.39L534.15 1123.23L534.18 1124.07L534.22 1124.91L534.25 1125.75L534.29 1126.59L534.33 1127.43L534.36 1128.27L534.4 1129.1L534.44 1129.93L534.47 1130.76L534.51 1131.58L534.55 1132.4L534.58 1133.21L534.62 1134.01L534.66 1134.81L534.7 1135.6L534.74 1136.45L534.78 1137.3L534.83 1138.15L534.87 1139L534.91 1139.86L534.95 1140.71L534.99 1141.56L535.03 1142.42L535.08 1143.27L535.12 1144.12L535.16 1144.97L535.2 1145.82L535.25 1146.67L535.29 1147.51L535.33 1148.35L535.38 1149.19L535.42 1150.02L535.47 1150.84L535.51 1151.66L535.56 1152.48L535.6 1153.29L535.65 1154.09L535.7 1154.89L535.75 1155.68L535.8 1156.46L535.85 1157.23L535.9 1158L535.95 1158.75L536 1159.5L536.06 1160.38L536.13 1161.26L536.19 1162.14L536.26 1163.02L536.32 1163.89L536.39 1164.76L536.46 1165.62L536.53 1166.47L536.6 1167.32L536.67 1168.15L536.74 1168.96L536.81 1169.77L536.88 1170.56L536.96 1171.33L537.03 1172.08L537.1 1172.81L537.18 1173.52L537.25 1174.2L537.33 1174.86L537.4 1175.5L537.5 1176.48L537.57 1177.43L537.63 1178.34L537.69 1179.2L537.78 1180.01L537.92 1180.75L538.12 1181.41L538.4 1182L538.98 1182.62L539.71 1183.04L540.45 1183.44L541.1 1184L541.52 1184.63L541.88 1185.36L542.2 1186.15L542.5 1186.99L542.79 1187.85L543.1 1188.7L543.39 1189.54L543.66 1190.45L543.92 1191.38L544.18 1192.31L544.46 1193.19L544.76 1194L545.1 1194.7L545.7 1195.67L546.35 1196.47L547.1 1197L547.92 1197.1L548.82 1196.97L549.7 1197L550.61 1197.45L551.5 1198.1L552.4 1198.7L553.23 1199.18L554.06 1199.61L555 1199.9L555.85 1199.98L556.79 1199.94L557.77 1199.84L558.76 1199.71L559.7 1199.6L560.52 1199.5L561.33 1199.37L562.12 1199.24L562.91 1199.14L563.7 1199.1L564.67 1199.15L565.63 1199.27L566.6 1199.43L567.6 1199.6L568.5 1199.75L569.56 1199.94L570.63 1200.14L571.57 1200.32L572.24 1200.45L572.5 1200.5Z" fill="#F5DEB3" stroke="#000" stroke-width="1.125" stroke-linejoin="round"/>
<path d="M283.64 1220.24V687.81" stroke="#CD2626" stroke-width="1.5" stroke-dasharray="6 6" stroke-linecap="round" fill="none"/>
<rect x="59.76" y="687.81" width="532.43" height="532.43" fill="none" stroke="#000" stroke-width="0.75"/>
<path d="M132.5 1220.24H530.25M132.5 1220.24v5.98M212.05 1220.24v5.98M291.6 1220.24v5.98M371.15 1220.24v5.98M450.7 1220.24v5.98M530.25 1220.24v5.98" stroke="#000" stroke-width="0.75" fill="none"/>
<text x="132.5" y="1241.75" font-size="10.67" text-anchor="middle">70</text>
<text x="212.05" y="1241.75" font-size="10.67" text-anchor="middle">75</text>
<text x="291.6" y="1241.75" font-size="10.67" text-anchor="middle">80</text>
<text x="371.15" y="1241.75" font-size="10.67" text-anchor="middle">85</text>
<text x="450.7" y="1241.75" font-size="10.67" text-anchor="middle">90</text>
<text x="530.25" y="1241.75" font-size="10.67" text-anchor="middle">95</text>
<path d="M59.76 745.46V1200.5M59.76 1200.5h-5.98M59.76 1124.66h-5.98M59.76 1048.82h-5.98M59.76 972.98h-5.98M59.76 897.14h-5.98M59.76 821.3h-5.98M59.76 745.46h-5.98" stroke="#000" stroke-width="0.75" fill="none"/>
<text transform="translate(45.42 1200.5) rotate(-90)" font-size="10.67" text-anchor="middle">0.0</text>
<text transform="translate(45.42 1124.66) rotate(-90)" font-size="10.67" text-anchor="middle">0.2</text>
<text transform="translate(45.42 1048.82) rotate(-90)" font-size="10.67" text-anchor="middle">0.4</text>
<text transform="translate(45.42 972.98) rotate(-90)" font-size="10.67" text-anchor="middle">0.6</text>
<text transform="translate(45.42 897.14) rotate(-90)" font-size="10.67" text-anchor="middle">0.8</text>
<text transform="translate(45.42 821.3) rotate(-90)" font-size="10.67" text-anchor="middle">1.0</text>
<text transform="translate(45.42 745.46) rotate(-90)" font-size="10.67" text-anchor="middle">1.2</text>
<text x="325.98" y="1265.66" font-size="15.93" text-anchor="middle">Motif score</text>
<text transform="translate(21.51 954.52) rotate(-90)" font-size="15.7" text-anchor="middle">Density</text>
<text x="325.98" y="671.85" font-size="21.5" font-weight="bold" text-anchor="middle">Motif score threshold: 79.500</text>
<path d="M719.3 1200.5L719.52 1200.47L720.11 1200.37L720.96 1200.2L721.98 1199.98L723.06 1199.7L724.1 1199.38L725 1199L725.64 1198.64L726.27 1198.21L726.9 1197.74L727.52 1197.22L728.14 1196.68L728.76 1196.12L729.37 1195.56L729.99 1195.02L730.62 1194.49L731.25 1194L731.93 1193.48L732.61 1192.94L733.28 1192.4L733.96 1191.86L734.64 1191.35L735.33 1190.86L736.04 1190.43L736.76 1190.05L737.5 1189.75L738.34 1189.51L739.22 1189.33L740.13 1189.22L741.05 1189.16L741.96 1189.14L742.85 1189.15L743.7 1189.19L744.5 1189.25L745.41 1189.35L746.26 1189.51L747.07 1189.71L747.89 1189.96L748.75 1190.25L749.53 1190.6L750.33 1191.06L751.14 1191.57L751.96 1192.08L752.79 1192.53L753.64 1192.85L754.5 1193L755.32 1192.93L756.18 1192.67L757.06 1192.29L757.95 1191.84L758.83 1191.38L759.68 1190.97L760.49 1190.66L761.25 1190.5L762.26 1190.52L763.19 1190.71L764.09 1190.98L765 1191.25L765.92 1191.59L766.83 1192L767.76 1192.36L768.75 1192.5L769.51 1192.38L770.31 1192.09L771.14 1191.69L771.98 1191.26L772.84 1190.87L773.68 1190.59L774.5 1190.5L775.29 1190.6L776.05 1190.84L776.81 1191.18L777.57 1191.57L778.35 1191.99L779.16 1192.4L780 1192.75L780.74 1193.04L781.5 1193.37L782.29 1193.73L783.1 1194.09L783.92 1194.43L784.74 1194.74L785.57 1195L786.39 1195.18L787.2 1195.27L788 1195.25L788.75 1195.09L789.48 1194.8L790.2 1194.4L790.92 1193.92L791.63 1193.38L792.35 1192.82L793.08 1192.25L793.83 1191.71L794.6 1191.22L795.41 1190.81L796.25 1190.5L797 1190.31L797.78 1190.15L798.59 1190.02L799.44 1189.92L800.3 1189.84L801.17 1189.79L802.06 1189.76L802.94 1189.75L803.83 1189.75L804.7 1189.77L805.57 1189.8L806.41 1189.84L807.22 1189.89L808 1189.94L808.75 1190L809.68 1190.09L810.57 1190.21L811.43 1190.36L812.26 1190.53L813.08 1190.71L813.88 1190.91L814.67 1191.11L815.46 1191.31L816.25 1191.5L817.07 1191.73L817.87 1192L818.67 1192.29L819.46 1192.58L820.24 1192.84L821 1193.06L821.76 1193.2L822.5 1193.25L823.36 1193.19L824.19 1193.04L825 1192.81L825.81 1192.51L826.64 1192.15L827.5 1191.75L828.15 1191.41L828.81 1191L829.5 1190.54L830.19 1190.04L830.9 1189.52L831.6 1188.98L832.31 1188.46L833 1187.96L833.69 1187.5L834.35 1187.09L835 1186.75L835.87 1186.34L836.71 1185.97L837.54 1185.66L838.36 1185.42L839.18 1185.28L840 1185.25L840.84 1185.35L841.67 1185.57L842.5 1185.89L843.33 1186.29L844.17 1186.75L845 1187.25L845.62 1187.7L846.23 1188.26L846.84 1188.91L847.44 1189.59L848.05 1190.29L848.67 1190.97L849.29 1191.58L849.93 1192.11L850.58 1192.51L851.25 1192.75L852.05 1192.8L852.88 1192.64L853.73 1192.34L854.6 1191.95L855.46 1191.54L856.32 1191.16L857.17 1190.88L858 1190.75L858.84 1190.81L859.66 1191L860.46 1191.27L861.27 1191.57L862.08 1191.83L862.9 1191.99L863.75 1192L864.46 1191.88L865.19 1191.65L865.92 1191.35L866.65 1190.99L867.4 1190.6L868.15 1190.18L868.91 1189.77L869.68 1189.38L870.46 1189.04L871.25 1188.75L872 1188.53L872.76 1188.34L873.53 1188.18L874.3 1188.03L875.08 1187.9L875.87 1187.77L876.67 1187.64L877.48 1187.51L878.31 1187.36L879.15 1187.19L880 1187L880.73 1186.81L881.48 1186.6L882.26 1186.36L883.06 1186.11L883.86 1185.84L884.68 1185.57L885.51 1185.29L886.33 1185.02L887.16 1184.75L887.97 1184.5L888.78 1184.26L889.57 1184.04L890.34 1183.86L891.09 1183.7L891.81 1183.58L892.5 1183.5L893.47 1183.48L894.41 1183.58L895.31 1183.74L896.19 1183.94L897.04 1184.12L897.87 1184.26L898.69 1184.32L899.5 1184.25L900.35 1184.05L901.17 1183.76L901.97 1183.4L902.75 1182.98L903.52 1182.52L904.27 1182.02L905 1181.5L905.69 1180.98L906.38 1180.41L907.06 1179.8L907.73 1179.16L908.36 1178.5L908.96 1177.83L909.51 1177.16L910 1176.5L910.46 1175.79L910.83 1175.1L911.15 1174.39L911.45 1173.66L911.76 1172.87L912.1 1172L912.36 1171.34L912.63 1170.64L912.91 1169.89L913.2 1169.11L913.49 1168.3L913.78 1167.47L914.07 1166.62L914.36 1165.76L914.65 1164.89L914.92 1164.03L915.19 1163.17L915.45 1162.33L915.7 1161.5L915.93 1160.69L916.15 1159.88L916.37 1159.07L916.57 1158.25L916.77 1157.43L916.97 1156.62L917.16 1155.8L917.35 1154.98L917.54 1154.16L917.73 1153.35L917.91 1152.53L918.11 1151.71L918.3 1150.9L918.49 1150.09L918.68 1149.28L918.87 1148.47L919.05 1147.67L919.24 1146.86L919.42 1146.05L919.61 1145.24L919.79 1144.43L919.99 1143.63L920.18 1142.82L920.38 1142.01L920.59 1141.21L920.8 1140.4L921.02 1139.58L921.26 1138.77L921.5 1137.95L921.74 1137.14L921.99 1136.32L922.25 1135.5L922.5 1134.69L922.76 1133.87L923.01 1133.06L923.27 1132.24L923.52 1131.43L923.76 1130.61L924 1129.8L924.23 1128.99L924.47 1128.19L924.7 1127.38L924.94 1126.57L925.17 1125.77L925.4 1124.96L925.63 1124.15L925.85 1123.35L926.08 1122.54L926.29 1121.73L926.5 1120.92L926.7 1120.11L926.9 1119.3L927.09 1118.5L927.26 1117.71L927.43 1116.94L927.59 1116.17L927.74 1115.4L927.89 1114.63L928.04 1113.84L928.19 1113.05L928.34 1112.23L928.5 1111.4L928.66 1110.53L928.82 1109.63L929 1108.7L929.13 1108.02L929.26 1107.31L929.4 1106.59L929.54 1105.85L929.68 1105.1L929.83 1104.32L929.97 1103.54L930.12 1102.74L930.27 1101.93L930.43 1101.11L930.58 1100.28L930.73 1099.45L930.89 1098.6L931.04 1097.75L931.2 1096.9L931.35 1096.04L931.5 1095.19L931.66 1094.33L931.81 1093.47L931.96 1092.62L932.1 1091.77L932.25 1090.92L932.39 1090.08L932.53 1089.24L932.67 1088.42L932.8 1087.6L932.93 1086.79L933.06 1085.99L933.19 1085.18L933.31 1084.37L933.44 1083.56L933.56 1082.76L933.68 1081.95L933.8 1081.14L933.92 1080.34L934.04 1079.53L934.16 1078.72L934.28 1077.91L934.39 1077.11L934.51 1076.3L934.62 1075.49L934.73 1074.68L934.84 1073.88L934.95 1073.07L935.06 1072.26L935.17 1071.45L935.28 1070.64L935.38 1069.84L935.49 1069.03L935.59 1068.22L935.7 1067.41L935.8 1066.6L935.9 1065.79L936 1064.98L936.1 1064.17L936.19 1063.36L936.29 1062.55L936.38 1061.74L936.47 1060.93L936.57 1060.11L936.66 1059.3L936.74 1058.49L936.83 1057.68L936.92 1056.87L937.01 1056.06L937.09 1055.24L937.18 1054.43L937.26 1053.62L937.35 1052.81L937.43 1052L937.51 1051.18L937.6 1050.37L937.68 1049.56L937.76 1048.75L937.85 1047.94L937.93 1047.12L938.02 1046.31L938.1 1045.5L938.18 1044.69L938.27 1043.88L938.35 1043.07L938.44 1042.25L938.52 1041.44L938.6 1040.63L938.68 1039.82L938.77 1039.01L938.85 1038.2L938.93 1037.39L939.01 1036.57L939.09 1035.76L939.17 1034.95L939.26 1034.14L939.34 1033.33L939.42 1032.52L939.5 1031.7L939.58 1030.89L939.65 1030.08L939.73 1029.27L939.81 1028.46L939.89 1027.65L939.97 1026.84L940.05 1026.02L940.12 1025.21L940.2 1024.4L940.28 1023.59L940.35 1022.78L940.43 1021.97L940.51 1021.15L940.58 1020.34L940.66 1019.53L940.73 1018.72L940.81 1017.91L940.88 1017.1L940.95 1016.29L941.03 1015.47L941.1 1014.66L941.17 1013.85L941.25 1013.04L941.32 1012.23L941.39 1011.42L941.46 1010.6L941.54 1009.79L941.61 1008.98L941.68 1008.17L941.75 1007.36L941.82 1006.55L941.89 1005.74L941.96 1004.92L942.03 1004.11L942.1 1003.3L942.17 1002.49L942.24 1001.68L942.31 1000.87L942.38 1000.05L942.45 999.24L942.51 998.43L942.58 997.62L942.65 996.81L942.72 996L942.79 995.19L942.85 994.37L942.92 993.56L942.99 992.75L943.05 991.94L943.12 991.13L943.18 990.32L943.25 989.51L943.31 988.69L943.38 987.88L943.44 987.07L943.5 986.26L943.56 985.45L943.62 984.64L943.68 983.82L943.74 983.01L943.8 982.2L943.86 981.39L943.91 980.58L943.97 979.77L944.03 978.95L944.09 978.14L944.14 977.33L944.2 976.52L944.25 975.71L944.31 974.9L944.36 974.09L944.41 973.27L944.47 972.46L944.52 971.65L944.57 970.84L944.62 970.03L944.67 969.22L944.72 968.41L944.76 967.59L944.81 966.78L944.86 965.97L944.9 965.16L944.94 964.35L944.98 963.54L945.02 962.72L945.06 961.91L945.1 961.1L945.14 960.29L945.17 959.48L945.2 958.68L945.23 957.88L945.26 957.08L945.29 956.28L945.31 955.49L945.34 954.69L945.36 953.89L945.38 953.1L945.41 952.3L945.43 951.5L945.45 950.7L945.47 949.9L945.49 949.1L945.51 948.29L945.52 947.49L945.54 946.67L945.56 945.86L945.58 945.04L945.6 944.21L945.62 943.38L945.64 942.54L945.66 941.7L945.68 940.85L945.7 940L945.72 939.24L945.74 938.46L945.76 937.68L945.77 936.9L945.79 936.1L945.81 935.3L945.83 934.5L945.84 933.69L945.86 932.87L945.88 932.05L945.89 931.23L945.91 930.4L945.93 929.57L945.94 928.75L945.96 927.91L945.98 927.08L945.99 926.25L946.01 925.42L946.03 924.59L946.04 923.76L946.06 922.94L946.08 922.11L946.1 921.29L946.11 920.48L946.13 919.67L946.15 918.86L946.17 918.06L946.19 917.26L946.21 916.48L946.23 915.69L946.25 914.92L946.28 914.16L946.3 913.4L946.33 912.54L946.35 911.68L946.38 910.84L946.41 910L946.44 909.16L946.47 908.34L946.5 907.52L946.53 906.7L946.56 905.89L946.59 905.08L946.62 904.28L946.66 903.48L946.69 902.68L946.72 901.88L946.75 901.09L946.79 900.29L946.82 899.5L946.85 898.71L946.89 897.91L946.92 897.12L946.96 896.32L946.99 895.52L947.03 894.72L947.06 893.91L947.1 893.1L947.14 892.29L947.17 891.48L947.21 890.66L947.25 889.85L947.29 889.04L947.33 888.23L947.37 887.42L947.41 886.6L947.45 885.79L947.49 884.98L947.53 884.17L947.57 883.36L947.61 882.54L947.66 881.73L947.7 880.92L947.74 880.11L947.78 879.3L947.82 878.48L947.86 877.67L947.9 876.86L947.94 876.05L947.98 875.24L948.02 874.42L948.06 873.61L948.1 872.8L948.14 871.99L948.17 871.18L948.21 870.36L948.25 869.55L948.28 868.74L948.32 867.93L948.35 867.12L948.38 866.3L948.42 865.49L948.45 864.68L948.49 863.87L948.52 863.06L948.55 862.24L948.59 861.43L948.62 860.62L948.66 859.81L948.69 859L948.73 858.18L948.77 857.37L948.8 856.56L948.84 855.75L948.88 854.94L948.92 854.12L948.96 853.31L949 852.5L949.04 851.69L949.09 850.88L949.13 850.06L949.18 849.25L949.22 848.44L949.27 847.63L949.32 846.82L949.37 846L949.42 845.19L949.47 844.38L949.52 843.57L949.57 842.76L949.62 841.94L949.67 841.13L949.72 840.32L949.77 839.51L949.82 838.7L949.87 837.88L949.92 837.07L949.97 836.26L950.02 835.45L950.06 834.64L950.11 833.82L950.16 833.01L950.2 832.2L950.24 831.39L950.29 830.58L950.33 829.76L950.37 828.95L950.41 828.14L950.45 827.33L950.48 826.52L950.52 825.7L950.56 824.89L950.6 824.08L950.63 823.27L950.67 822.46L950.71 821.64L950.74 820.83L950.78 820.02L950.82 819.21L950.86 818.4L950.9 817.58L950.94 816.77L950.98 815.96L951.02 815.15L951.06 814.34L951.11 813.52L951.15 812.71L951.2 811.9L951.25 811.09L951.3 810.28L951.35 809.46L951.4 808.65L951.45 807.84L951.51 807.03L951.56 806.22L951.62 805.4L951.67 804.59L951.73 803.78L951.79 802.97L951.85 802.16L951.9 801.34L951.96 800.53L952.02 799.72L952.08 798.91L952.14 798.1L952.2 797.28L952.26 796.47L952.31 795.66L952.37 794.85L952.43 794.04L952.49 793.22L952.54 792.41L952.6 791.6L952.66 790.79L952.71 789.98L952.77 789.16L952.82 788.35L952.88 787.54L952.93 786.73L952.98 785.92L953.04 785.11L953.09 784.29L953.15 783.48L953.2 782.67L953.25 781.86L953.31 781.05L953.36 780.23L953.42 779.42L953.47 778.61L953.53 777.8L953.59 776.99L953.64 776.17L953.7 775.36L953.76 774.55L953.82 773.74L953.88 772.93L953.94 772.11L954 771.3L954.06 770.48L954.13 769.67L954.19 768.86L954.25 768.04L954.32 767.23L954.38 766.41L954.45 765.6L954.52 764.78L954.58 763.97L954.65 763.15L954.72 762.34L954.79 761.53L954.86 760.71L954.93 759.89L955 759.08L955.07 758.26L955.14 757.45L955.21 756.63L955.28 755.81L955.35 755L955.42 754.18L955.49 753.36L955.56 752.54L955.63 751.72L955.7 750.9L955.77 750.09L955.84 749.26L955.91 748.42L955.98 747.55L956.05 746.68L956.12 745.8L956.2 744.91L956.27 744.02L956.34 743.12L956.42 742.23L956.49 741.33L956.56 740.45L956.64 739.57L956.71 738.7L956.78 737.84L956.85 737L956.93 736.18L957 735.38L957.07 734.6L957.14 733.85L957.21 733.12L957.28 732.43L957.35 731.76L957.42 731.14L957.48 730.55L957.55 730L957.69 728.97L957.83 728.1L957.96 727.32L958.09 726.58L958.22 725.83L958.35 725L958.46 724.14L958.57 723.27L958.68 722.37L958.78 721.47L958.89 720.56L958.99 719.65L959.1 718.75L959.21 717.84L959.31 716.92L959.42 715.99L959.52 715.07L959.64 714.17L959.76 713.31L959.9 712.5L960.1 711.43L960.32 710.41L960.56 709.48L960.85 708.7L961.33 707.77L961.85 707.3L962.37 707.77L962.85 708.7L963.14 709.48L963.39 710.41L963.6 711.43L963.8 712.5L963.93 713.31L964.05 714.17L964.15 715.07L964.24 715.99L964.34 716.92L964.44 717.84L964.55 718.75L964.67 719.65L964.8 720.56L964.94 721.47L965.07 722.37L965.21 723.27L965.36 724.14L965.5 725L965.65 725.83L965.81 726.58L965.97 727.32L966.13 728.1L966.29 728.97L966.45 730L966.53 730.55L966.6 731.14L966.68 731.76L966.76 732.42L966.84 733.12L966.92 733.85L967 734.6L967.08 735.38L967.16 736.18L967.24 737L967.32 737.84L967.4 738.7L967.48 739.57L967.56 740.44L967.64 741.33L967.72 742.22L967.8 743.12L967.88 744.02L967.96 744.91L968.04 745.8L968.12 746.68L968.2 747.55L968.27 748.41L968.35 749.26L968.43 750.09L968.5 750.9L968.58 751.72L968.65 752.54L968.73 753.36L968.8 754.18L968.88 755L968.95 755.81L969.03 756.63L969.1 757.45L969.17 758.26L969.25 759.08L969.32 759.89L969.39 760.71L969.46 761.52L969.53 762.34L969.6 763.15L969.68 763.97L969.75 764.78L969.82 765.6L969.89 766.41L969.96 767.23L970.03 768.04L970.09 768.86L970.16 769.67L970.23 770.48L970.3 771.3L970.37 772.11L970.44 772.93L970.5 773.74L970.57 774.55L970.64 775.36L970.7 776.17L970.77 776.99L970.83 777.8L970.9 778.61L970.96 779.42L971.03 780.23L971.09 781.05L971.16 781.86L971.22 782.67L971.28 783.48L971.35 784.29L971.41 785.1L971.47 785.92L971.53 786.73L971.6 787.54L971.66 788.35L971.72 789.16L971.78 789.98L971.84 790.79L971.9 791.6L971.96 792.41L972.02 793.22L972.08 794.04L972.14 794.85L972.19 795.66L972.25 796.47L972.31 797.28L972.37 798.1L972.42 798.91L972.48 799.72L972.54 800.53L972.59 801.34L972.65 802.16L972.7 802.97L972.76 803.78L972.81 804.59L972.87 805.4L972.92 806.22L972.98 807.03L973.03 807.84L973.08 808.65L973.14 809.46L973.19 810.28L973.25 811.09L973.3 811.9L973.35 812.71L973.41 813.52L973.46 814.34L973.51 815.15L973.57 815.96L973.62 816.77L973.67 817.58L973.73 818.4L973.78 819.21L973.83 820.02L973.88 820.83L973.94 821.64L973.99 822.46L974.04 823.27L974.09 824.08L974.14 824.89L974.19 825.7L974.25 826.52L974.3 827.33L974.35 828.14L974.4 828.95L974.45 829.76L974.5 830.58L974.55 831.39L974.6 832.2L974.65 833.01L974.7 833.82L974.75 834.64L974.8 835.45L974.85 836.26L974.9 837.07L974.95 837.88L975 838.7L975.05 839.51L975.1 840.32L975.15 841.13L975.19 841.94L975.24 842.76L975.29 843.57L975.34 844.38L975.39 845.19L975.43 846L975.48 846.82L975.53 847.63L975.57 848.44L975.62 849.25L975.67 850.06L975.71 850.88L975.76 851.69L975.8 852.5L975.84 853.31L975.89 854.12L975.93 854.94L975.97 855.75L976.01 856.56L976.05 857.37L976.09 858.18L976.13 859L976.17 859.81L976.21 860.62L976.25 861.43L976.29 862.24L976.33 863.06L976.37 863.87L976.41 864.68L976.45 865.49L976.49 866.3L976.53 867.12L976.56 867.93L976.6 868.74L976.64 869.55L976.68 870.36L976.72 871.18L976.76 871.99L976.8 872.8L976.84 873.61L976.88 874.42L976.92 875.24L976.96 876.05L977 876.86L977.04 877.67L977.08 878.48L977.12 879.3L977.16 880.11L977.2 880.92L977.24 881.73L977.28 882.54L977.32 883.36L977.36 884.17L977.4 884.98L977.44 885.79L977.48 886.6L977.52 887.42L977.56 888.23L977.6 889.04L977.64 889.85L977.68 890.66L977.72 891.48L977.76 892.29L977.8 893.1L977.84 893.91L977.88 894.72L977.92 895.54L977.96 896.35L978 897.16L978.04 897.97L978.08 898.78L978.12 899.59L978.16 900.41L978.2 901.22L978.24 902.03L978.28 902.84L978.32 903.65L978.36 904.46L978.4 905.28L978.44 906.09L978.48 906.9L978.52 907.71L978.56 908.52L978.6 909.34L978.64 910.15L978.68 910.96L978.72 911.77L978.76 912.59L978.8 913.4L978.84 914.21L978.88 915.02L978.92 915.83L978.97 916.63L979.01 917.43L979.05 918.23L979.1 919.02L979.14 919.82L979.18 920.62L979.23 921.41L979.27 922.21L979.31 923.01L979.35 923.81L979.4 924.62L979.44 925.42L979.48 926.23L979.52 927.05L979.56 927.87L979.6 928.7L979.63 929.53L979.67 930.37L979.7 931.21L979.74 932.07L979.77 932.93L979.8 933.8L979.82 934.55L979.85 935.31L979.87 936.08L979.88 936.85L979.9 937.63L979.91 938.42L979.93 939.22L979.94 940.02L979.95 940.83L979.96 941.65L979.97 942.46L979.98 943.28L979.98 944.11L979.99 944.93L980 945.76L980.01 946.59L980.01 947.42L980.02 948.25L980.03 949.08L980.04 949.91L980.05 950.74L980.06 951.57L980.07 952.39L980.08 953.21L980.09 954.02L980.11 954.84L980.13 955.64L980.14 956.44L980.16 957.24L980.19 958.03L980.21 958.81L980.24 959.58L980.27 960.34L980.3 961.1L980.34 961.96L980.38 962.81L980.43 963.66L980.47 964.5L980.52 965.33L980.57 966.16L980.63 966.98L980.68 967.79L980.74 968.61L980.8 969.42L980.85 970.22L980.91 971.02L980.98 971.82L981.04 972.62L981.1 973.42L981.16 974.21L981.23 975L981.29 975.8L981.36 976.59L981.42 977.39L981.48 978.18L981.55 978.98L981.61 979.78L981.68 980.58L981.74 981.39L981.8 982.2L981.86 983.01L981.92 983.82L981.99 984.63L982.05 985.45L982.11 986.26L982.18 987.07L982.24 987.88L982.31 988.69L982.37 989.5L982.44 990.32L982.51 991.13L982.57 991.94L982.64 992.75L982.7 993.56L982.77 994.37L982.84 995.18L982.9 996L982.97 996.81L983.04 997.62L983.1 998.43L983.17 999.24L983.24 1000.05L983.3 1000.87L983.37 1001.68L983.43 1002.49L983.5 1003.3L983.57 1004.11L983.63 1004.92L983.7 1005.73L983.76 1006.55L983.83 1007.36L983.89 1008.17L983.96 1008.98L984.03 1009.79L984.09 1010.6L984.16 1011.42L984.22 1012.23L984.29 1013.04L984.36 1013.85L984.42 1014.66L984.49 1015.47L984.55 1016.28L984.62 1017.1L984.68 1017.91L984.75 1018.72L984.81 1019.53L984.88 1020.34L984.94 1021.15L985.01 1021.97L985.07 1022.78L985.14 1023.59L985.2 1024.4L985.26 1025.21L985.33 1026.02L985.39 1026.83L985.45 1027.65L985.51 1028.46L985.57 1029.27L985.64 1030.08L985.7 1030.89L985.76 1031.7L985.82 1032.52L985.88 1033.33L985.94 1034.14L986 1034.95L986.06 1035.76L986.12 1036.57L986.18 1037.38L986.24 1038.2L986.3 1039.01L986.36 1039.82L986.43 1040.63L986.49 1041.44L986.55 1042.25L986.61 1043.07L986.67 1043.88L986.74 1044.69L986.8 1045.5L986.86 1046.31L986.93 1047.12L986.99 1047.94L987.05 1048.75L987.11 1049.56L987.18 1050.37L987.24 1051.18L987.3 1051.99L987.37 1052.81L987.43 1053.62L987.49 1054.43L987.55 1055.24L987.62 1056.05L987.68 1056.87L987.75 1057.68L987.81 1058.49L987.88 1059.3L987.94 1060.11L988.01 1060.92L988.08 1061.74L988.15 1062.55L988.22 1063.36L988.29 1064.17L988.36 1064.98L988.43 1065.79L988.5 1066.6L988.57 1067.41L988.64 1068.22L988.72 1069.03L988.79 1069.83L988.86 1070.64L988.93 1071.45L989 1072.26L989.07 1073.07L989.15 1073.88L989.22 1074.68L989.29 1075.49L989.37 1076.3L989.45 1077.11L989.52 1077.91L989.6 1078.72L989.68 1079.53L989.76 1080.34L989.85 1081.14L989.93 1081.95L990.02 1082.76L990.11 1083.56L990.2 1084.37L990.3 1085.18L990.4 1085.99L990.5 1086.79L990.6 1087.6L990.71 1088.42L990.82 1089.24L990.94 1090.08L991.06 1090.92L991.19 1091.77L991.32 1092.62L991.45 1093.47L991.59 1094.33L991.73 1095.19L991.87 1096.05L992.01 1096.9L992.15 1097.75L992.29 1098.6L992.44 1099.44L992.58 1100.28L992.72 1101.11L992.86 1101.93L993 1102.74L993.13 1103.54L993.27 1104.32L993.4 1105.09L993.53 1105.85L993.65 1106.59L993.77 1107.31L993.89 1108.02L994 1108.7L994.15 1109.63L994.28 1110.53L994.4 1111.4L994.52 1112.23L994.63 1113.05L994.74 1113.85L994.85 1114.63L994.97 1115.4L995.09 1116.17L995.22 1116.94L995.36 1117.72L995.52 1118.5L995.7 1119.3L995.89 1120.12L996.1 1120.93L996.31 1121.74L996.54 1122.55L996.77 1123.36L997.01 1124.17L997.26 1124.98L997.52 1125.78L997.79 1126.59L998.06 1127.39L998.33 1128.19L998.61 1129L998.9 1129.8L999.18 1130.56L999.48 1131.32L999.79 1132.08L1000.11 1132.83L1000.44 1133.59L1000.78 1134.34L1001.11 1135.1L1001.45 1135.85L1001.78 1136.61L1002.11 1137.36L1002.43 1138.12L1002.73 1138.88L1003.02 1139.64L1003.3 1140.4L1003.57 1141.2L1003.84 1142.01L1004.09 1142.81L1004.33 1143.62L1004.57 1144.42L1004.8 1145.23L1005.02 1146.04L1005.24 1146.85L1005.46 1147.66L1005.67 1148.47L1005.88 1149.28L1006.09 1150.09L1006.3 1150.9L1006.5 1151.71L1006.7 1152.53L1006.88 1153.34L1007.06 1154.16L1007.23 1154.98L1007.4 1155.8L1007.57 1156.62L1007.75 1157.44L1007.94 1158.26L1008.13 1159.07L1008.34 1159.88L1008.56 1160.69L1008.8 1161.5L1009.04 1162.27L1009.29 1163.04L1009.55 1163.82L1009.82 1164.61L1010.1 1165.4L1010.39 1166.18L1010.68 1166.96L1010.98 1167.73L1011.29 1168.49L1011.6 1169.23L1011.92 1169.96L1012.24 1170.66L1012.57 1171.35L1012.9 1172L1013.33 1172.8L1013.78 1173.57L1014.24 1174.31L1014.71 1175.02L1015.18 1175.71L1015.66 1176.38L1016.14 1177.04L1016.62 1177.68L1017.1 1178.3L1017.64 1178.99L1018.19 1179.66L1018.75 1180.31L1019.3 1180.94L1019.85 1181.53L1020.39 1182.09L1020.9 1182.6L1021.55 1183.19L1022.18 1183.71L1022.79 1184.19L1023.4 1184.7L1023.98 1185.25L1024.55 1185.81L1025.14 1186.36L1025.8 1186.9L1026.41 1187.37L1027.08 1187.89L1027.79 1188.4L1028.52 1188.84L1029.26 1189.14L1030 1189.25L1030.68 1189.13L1031.37 1188.84L1032.05 1188.41L1032.75 1187.89L1033.47 1187.33L1034.22 1186.77L1035 1186.25L1035.67 1185.82L1036.37 1185.31L1037.11 1184.76L1037.87 1184.18L1038.65 1183.59L1039.42 1183.04L1040.19 1182.53L1040.94 1182.1L1041.67 1181.76L1042.36 1181.56L1043 1181.5L1043.83 1181.67L1044.6 1182.07L1045.32 1182.64L1046.03 1183.31L1046.75 1184.04L1047.5 1184.75L1048.04 1185.29L1048.59 1185.93L1049.13 1186.64L1049.68 1187.4L1050.23 1188.16L1050.79 1188.92L1051.36 1189.63L1051.94 1190.27L1052.53 1190.82L1053.13 1191.24L1053.75 1191.5L1054.49 1191.6L1055.26 1191.52L1056.06 1191.31L1056.86 1191.01L1057.66 1190.66L1058.46 1190.3L1059.24 1189.98L1060 1189.75L1060.87 1189.57L1061.72 1189.42L1062.56 1189.28L1063.38 1189.14L1064.2 1188.97L1065 1188.75L1065.77 1188.42L1066.52 1187.98L1067.26 1187.52L1068 1187.11L1068.74 1186.82L1069.5 1186.75L1070.17 1186.9L1070.85 1187.22L1071.54 1187.67L1072.23 1188.2L1072.92 1188.76L1073.62 1189.33L1074.31 1189.84L1075 1190.25L1075.81 1190.67L1076.61 1191.08L1077.4 1191.46L1078.21 1191.79L1079.07 1192.06L1080 1192.25L1080.76 1192.32L1081.55 1192.31L1082.37 1192.25L1083.21 1192.14L1084.09 1192.01L1084.98 1191.87L1085.9 1191.73L1086.83 1191.61L1087.78 1191.53L1088.75 1191.5L1089.48 1191.51L1090.23 1191.54L1091 1191.59L1091.79 1191.65L1092.59 1191.73L1093.4 1191.81L1094.22 1191.9L1095.05 1192L1095.89 1192.1L1096.73 1192.21L1097.57 1192.31L1098.41 1192.4L1099.24 1192.49L1100.07 1192.57L1100.89 1192.65L1101.7 1192.71L1102.5 1192.75L1103.36 1192.79L1104.22 1192.84L1105.09 1192.89L1105.97 1192.94L1106.84 1192.99L1107.71 1193.03L1108.58 1193.07L1109.43 1193.09L1110.28 1193.1L1111.11 1193.1L1111.93 1193.08L1112.73 1193.03L1113.51 1192.97L1114.27 1192.87L1115 1192.75L1115.84 1192.54L1116.64 1192.25L1117.41 1191.91L1118.15 1191.53L1118.88 1191.15L1119.59 1190.76L1120.3 1190.41L1121.02 1190.11L1121.75 1189.89L1122.5 1189.75L1123.32 1189.71L1124.13 1189.77L1124.94 1189.9L1125.76 1190.08L1126.58 1190.29L1127.41 1190.5L1128.25 1190.71L1129.12 1190.88L1130 1191L1130.79 1191.07L1131.6 1191.15L1132.43 1191.21L1133.28 1191.28L1134.14 1191.33L1135.01 1191.37L1135.87 1191.4L1136.73 1191.41L1137.58 1191.41L1138.41 1191.38L1139.22 1191.33L1140 1191.25L1140.88 1191.09L1141.73 1190.85L1142.56 1190.56L1143.37 1190.24L1144.17 1189.92L1144.98 1189.64L1145.79 1189.41L1146.63 1189.27L1147.5 1189.25L1148.23 1189.34L1148.97 1189.54L1149.73 1189.82L1150.5 1190.17L1151.28 1190.56L1152.07 1190.98L1152.86 1191.41L1153.65 1191.82L1154.43 1192.2L1155.21 1192.53L1155.99 1192.78L1156.75 1192.95L1157.5 1193L1158.32 1192.92L1159.12 1192.72L1159.92 1192.42L1160.71 1192.05L1161.5 1191.62L1162.29 1191.18L1163.07 1190.74L1163.86 1190.32L1164.65 1189.96L1165.44 1189.68L1166.25 1189.5L1167.11 1189.4L1167.98 1189.34L1168.85 1189.34L1169.72 1189.37L1170.59 1189.44L1171.47 1189.55L1172.35 1189.68L1173.23 1189.85L1174.11 1190.04L1175 1190.25L1175.76 1190.49L1176.53 1190.8L1177.3 1191.19L1178.07 1191.62L1178.84 1192.07L1179.62 1192.54L1180.39 1192.99L1181.17 1193.42L1181.94 1193.8L1182.71 1194.12L1183.48 1194.35L1184.24 1194.49L1185 1194.5L1185.73 1194.37L1186.48 1194.09L1187.23 1193.7L1187.98 1193.21L1188.74 1192.65L1189.49 1192.04L1190.24 1191.41L1190.97 1190.79L1191.7 1190.19L1192.4 1189.65L1193.09 1189.18L1193.75 1188.82L1194.39 1188.58L1195 1188.5L1195.81 1188.59L1196.56 1188.85L1197.27 1189.24L1197.96 1189.73L1198.63 1190.29L1199.31 1190.89L1200 1191.5L1200.52 1192L1201.04 1192.59L1201.54 1193.23L1202.04 1193.93L1202.54 1194.65L1203.04 1195.38L1203.54 1196.11L1204.06 1196.81L1204.58 1197.47L1205.12 1198.06L1205.67 1198.58L1206.25 1199L1207.07 1199.4L1208.03 1199.73L1209.07 1200L1210.09 1200.19L1211.03 1200.34L1211.79 1200.43L1212.31 1200.48L1212.5 1200.5Z" fill="#F5DEB3" stroke="#000" stroke-width="1.125" stroke-linejoin="round"/>
<path d="M920.28 1220.24V687.81" stroke="#006400" stroke-width="1.5" stroke-dasharray="6 6" stroke-linecap="round" fill="none"/>
<path d="M1010.52 1220.24V687.81" stroke="#006400" stroke-width="1.5" stroke-dasharray="6 6" stroke-linecap="round" fill="none"/>
<rect x="699.76" y="687.81" width="532.43" height="532.43" fill="none" stroke="#000" stroke-width="0.75"/>
<path d="M773.4 1220.24H1157.4M773.4 1220.24v5.98M869.4 1220.24v5.98M965.4 1220.24v5.98M1061.4 1220.24v5.98M1157.4 1220.24v5.98" stroke="#000" stroke-width="0.75" fill="none"/>
<text x="773.4" y="1241.75" font-size="10.67" text-anchor="middle">-400</text>
<text x="869.4" y="1241.75" font-size="10.67" text-anchor="middle">-200</text>
<text x="965.4" y="1241.75" font-size="10.67" text-anchor="middle">0</text>
<text x="1061.4" y="1241.75" font-size="10.67" text-anchor="middle">200</text>
<text x="1157.4" y="1241.75" font-size="10.67" text-anchor="middle">400</text>
<path d="M699.76 785.3V1200.5M699.76 1200.5h-5.98M699.76 1096.7h-5.98M699.76 992.9h-5.98M699.76 889.1h-5.98M699.76 785.3h-5.98" stroke="#000" stroke-width="0.75" fill="none"/>
<text transform="translate(685.42 1200.5) rotate(-90)" font-size="10.67" text-anchor="middle">0.000</text>
<text transform="translate(685.42 1096.7) rotate(-90)" font-size="10.67" text-anchor="middle">0.002</text>
<text transform="translate(685.42 992.9) rotate(-90)" font-size="10.67" text-anchor="middle">0.004</text>
<text transform="translate(685.42 889.1) rotate(-90)" font-size="10.67" text-anchor="middle">0.006</text>
<text transform="translate(685.42 785.3) rotate(-90)" font-size="10.67" text-anchor="middle">0.008</text>
<text x="965.98" y="1265.66" font-size="15.93" text-anchor="middle">Distance to peak summit</text>
<text transform="translate(661.51 954.52) rotate(-90)" font-size="15.7" text-anchor="middle">Density</text>
<text x="965.98" y="671.85" font-size="21.5" font-weight="bold" text-anchor="middle">Enrichment zone: 94.00</text>
<path d="M1017.38 703.4H1041.3" stroke="#006400" stroke-width="1.125" stroke-dasharray="1.125 3.375" stroke-linecap="round"/>
<path d="M1017.38 718.9H1041.3" stroke="#CD2626" stroke-width="1.125" stroke-dasharray="1.125 3.375" stroke-linecap="round"/>
<ellipse cx="1029.05" cy="734.6" rx="3.0" ry="2.6" fill="#0000FF"/>
<text transform="translate(1052.1 707.7) scale(1 1.08)" font-size="12.86">enrichment zone = 94</text>
<text transform="translate(1052.1 723.4) scale(1 1.08)" font-size="12.86">motif score threshold = 79.500</text>
<text transform="translate(1052.1 739.1) scale(1 1.08)" font-size="12.86">centrality p-val = -83.9261</text>
</svg>
</body></html>
